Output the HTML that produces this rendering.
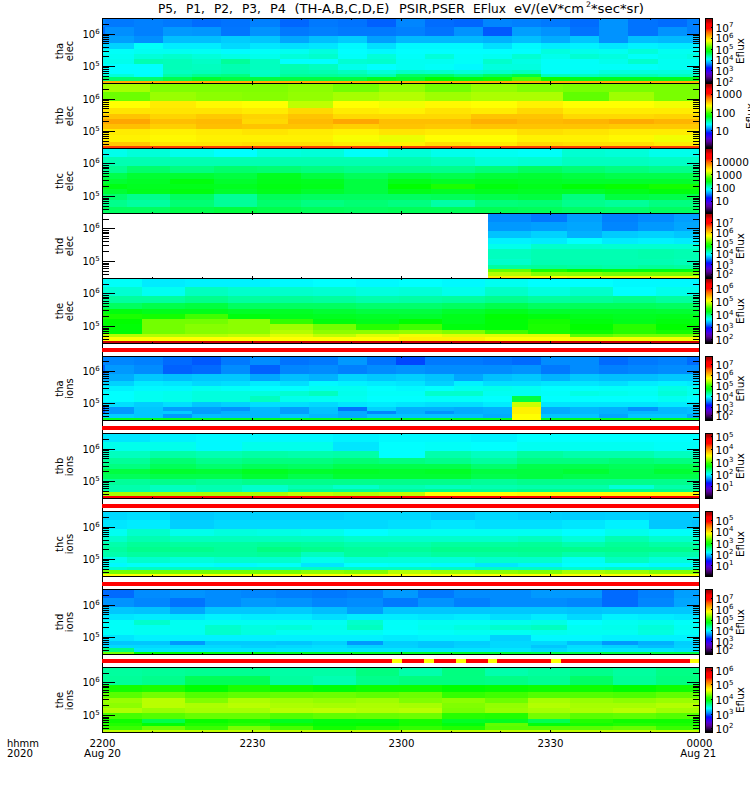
<!DOCTYPE html>
<html><head><meta charset="utf-8"><title>THEMIS SST EFlux</title>
<style>html,body{margin:0;padding:0;background:#fff}svg{display:block}text{font-family:"DejaVu Sans","Liberation Sans",sans-serif;fill:#000}</style></head><body>
<svg width="750" height="800" viewBox="0 0 750 800">
<defs><linearGradient id="cb" x1="0" y1="0" x2="0" y2="1">
<stop offset="0" stop-color="#9c0000"/>
<stop offset="0.04" stop-color="#c00000"/>
<stop offset="0.08" stop-color="#ff0000"/>
<stop offset="0.15" stop-color="#ff0800"/>
<stop offset="0.2" stop-color="#ff6000"/>
<stop offset="0.26" stop-color="#ffa800"/>
<stop offset="0.3" stop-color="#ffd800"/>
<stop offset="0.34" stop-color="#ffff00"/>
<stop offset="0.4" stop-color="#a0ff00"/>
<stop offset="0.46" stop-color="#30ff00"/>
<stop offset="0.51" stop-color="#00ff10"/>
<stop offset="0.57" stop-color="#00ff90"/>
<stop offset="0.63" stop-color="#00ffff"/>
<stop offset="0.7" stop-color="#0090ff"/>
<stop offset="0.765" stop-color="#0010ff"/>
<stop offset="0.8" stop-color="#2800ff"/>
<stop offset="0.85" stop-color="#5000d8"/>
<stop offset="0.9" stop-color="#580098"/>
<stop offset="0.95" stop-color="#300050"/>
<stop offset="0.985" stop-color="#080010"/>
<stop offset="1" stop-color="#000000"/>
</linearGradient></defs>
<rect x="0" y="0" width="750" height="800" fill="#fff"/>
<g shape-rendering="crispEdges">
<rect x="103" y="19" width="2" height="8" fill="#0086ff"/>
<rect x="105" y="19" width="29" height="8" fill="#0079ff"/>
<rect x="134" y="19" width="29" height="8" fill="#0080ff"/>
<rect x="163" y="19" width="29" height="8" fill="#0079ff"/>
<rect x="192" y="19" width="29" height="8" fill="#006cff"/>
<rect x="221" y="19" width="29" height="8" fill="#0073ff"/>
<rect x="250" y="19" width="30" height="8" fill="#0080ff"/>
<rect x="280" y="19" width="29" height="8" fill="#0066ff"/>
<rect x="309" y="19" width="29" height="8" fill="#0079ff"/>
<rect x="338" y="19" width="29" height="8" fill="#0073ff"/>
<rect x="367" y="19" width="29" height="8" fill="#0060ff"/>
<rect x="396" y="19" width="29" height="8" fill="#0086ff"/>
<rect x="425" y="19" width="29" height="8" fill="#006cff"/>
<rect x="454" y="19" width="29" height="8" fill="#0066ff"/>
<rect x="483" y="19" width="29" height="8" fill="#0086ff"/>
<rect x="512" y="19" width="29" height="8" fill="#0080ff"/>
<rect x="541" y="19" width="29" height="8" fill="#0079ff"/>
<rect x="570" y="19" width="29" height="8" fill="#006cff"/>
<rect x="599" y="19" width="29" height="8" fill="#0093ff"/>
<rect x="628" y="19" width="30" height="8" fill="#0073ff"/>
<rect x="658" y="19" width="29" height="8" fill="#006cff"/>
<rect x="687" y="19" width="12" height="8" fill="#0080ff"/>
<rect x="103" y="27" width="2" height="9" fill="#006cff"/>
<rect x="105" y="27" width="29" height="9" fill="#008fff"/>
<rect x="134" y="27" width="29" height="9" fill="#0080ff"/>
<rect x="163" y="27" width="29" height="9" fill="#0099ff"/>
<rect x="192" y="27" width="29" height="9" fill="#0096ff"/>
<rect x="221" y="27" width="29" height="9" fill="#0076ff"/>
<rect x="250" y="27" width="30" height="9" fill="#0093ff"/>
<rect x="280" y="27" width="29" height="9" fill="#0079ff"/>
<rect x="309" y="27" width="29" height="9" fill="#0080ff"/>
<rect x="338" y="27" width="58" height="9" fill="#0079ff"/>
<rect x="396" y="27" width="29" height="9" fill="#0080ff"/>
<rect x="425" y="27" width="29" height="9" fill="#0073ff"/>
<rect x="454" y="27" width="29" height="9" fill="#0093ff"/>
<rect x="483" y="27" width="29" height="9" fill="#0059ff"/>
<rect x="512" y="27" width="29" height="9" fill="#009fff"/>
<rect x="541" y="27" width="29" height="9" fill="#0093ff"/>
<rect x="570" y="27" width="29" height="9" fill="#0073ff"/>
<rect x="599" y="27" width="29" height="9" fill="#0093ff"/>
<rect x="628" y="27" width="30" height="9" fill="#0073ff"/>
<rect x="658" y="27" width="29" height="9" fill="#0093ff"/>
<rect x="687" y="27" width="12" height="9" fill="#0080ff"/>
<rect x="103" y="36" width="2" height="7" fill="#0093ff"/>
<rect x="105" y="36" width="29" height="7" fill="#009fff"/>
<rect x="134" y="36" width="29" height="7" fill="#008fff"/>
<rect x="163" y="36" width="58" height="7" fill="#00bfff"/>
<rect x="221" y="36" width="29" height="7" fill="#00ccff"/>
<rect x="250" y="36" width="30" height="7" fill="#00c6ff"/>
<rect x="280" y="36" width="29" height="7" fill="#00a6ff"/>
<rect x="309" y="36" width="29" height="7" fill="#00bfff"/>
<rect x="338" y="36" width="29" height="7" fill="#00ccff"/>
<rect x="367" y="36" width="29" height="7" fill="#009fff"/>
<rect x="396" y="36" width="87" height="7" fill="#00b9ff"/>
<rect x="483" y="36" width="29" height="7" fill="#00b2ff"/>
<rect x="512" y="36" width="29" height="7" fill="#00bfff"/>
<rect x="541" y="36" width="29" height="7" fill="#00acff"/>
<rect x="570" y="36" width="29" height="7" fill="#00c6ff"/>
<rect x="599" y="36" width="29" height="7" fill="#0093ff"/>
<rect x="628" y="36" width="30" height="7" fill="#00bfff"/>
<rect x="658" y="36" width="41" height="7" fill="#00b9ff"/>
<rect x="103" y="43" width="31" height="6" fill="#00d2ff"/>
<rect x="134" y="43" width="29" height="6" fill="#00fff9"/>
<rect x="163" y="43" width="58" height="6" fill="#00ecff"/>
<rect x="221" y="43" width="29" height="6" fill="#00d9ff"/>
<rect x="250" y="43" width="30" height="6" fill="#00e6ff"/>
<rect x="280" y="43" width="29" height="6" fill="#00dfff"/>
<rect x="309" y="43" width="29" height="6" fill="#00e6ff"/>
<rect x="338" y="43" width="29" height="6" fill="#00f9ff"/>
<rect x="367" y="43" width="29" height="6" fill="#00dfff"/>
<rect x="396" y="43" width="87" height="6" fill="#00f9ff"/>
<rect x="483" y="43" width="29" height="6" fill="#00dfff"/>
<rect x="512" y="43" width="29" height="6" fill="#00f9ff"/>
<rect x="541" y="43" width="29" height="6" fill="#00ecff"/>
<rect x="570" y="43" width="29" height="6" fill="#00f2ff"/>
<rect x="599" y="43" width="29" height="6" fill="#00e6ff"/>
<rect x="628" y="43" width="30" height="6" fill="#00f2ff"/>
<rect x="658" y="43" width="41" height="6" fill="#00ecff"/>
<rect x="103" y="49" width="31" height="5" fill="#00fff9"/>
<rect x="134" y="49" width="58" height="5" fill="#00fff2"/>
<rect x="192" y="49" width="29" height="5" fill="#00fff5"/>
<rect x="221" y="49" width="29" height="5" fill="#00fcff"/>
<rect x="250" y="49" width="30" height="5" fill="#00fff9"/>
<rect x="280" y="49" width="29" height="5" fill="#00fff2"/>
<rect x="309" y="49" width="29" height="5" fill="#00ffdf"/>
<rect x="338" y="49" width="29" height="5" fill="#00ffff"/>
<rect x="367" y="49" width="29" height="5" fill="#00f9ff"/>
<rect x="396" y="49" width="145" height="5" fill="#00ffff"/>
<rect x="541" y="49" width="29" height="5" fill="#00ffdf"/>
<rect x="570" y="49" width="29" height="5" fill="#00ffec"/>
<rect x="599" y="49" width="29" height="5" fill="#00fff2"/>
<rect x="628" y="49" width="30" height="5" fill="#00ffd9"/>
<rect x="658" y="49" width="41" height="5" fill="#00fff2"/>
<rect x="103" y="54" width="31" height="5" fill="#00fff2"/>
<rect x="134" y="54" width="29" height="5" fill="#00ffd9"/>
<rect x="163" y="54" width="29" height="5" fill="#00ffcc"/>
<rect x="192" y="54" width="29" height="5" fill="#00ffd9"/>
<rect x="221" y="54" width="29" height="5" fill="#00ffe5"/>
<rect x="250" y="54" width="30" height="5" fill="#00ffec"/>
<rect x="280" y="54" width="29" height="5" fill="#00ffd9"/>
<rect x="309" y="54" width="29" height="5" fill="#00ffcc"/>
<rect x="338" y="54" width="29" height="5" fill="#00fff9"/>
<rect x="367" y="54" width="29" height="5" fill="#00ffd9"/>
<rect x="396" y="54" width="29" height="5" fill="#00fff9"/>
<rect x="425" y="54" width="29" height="5" fill="#00ffd9"/>
<rect x="454" y="54" width="29" height="5" fill="#00fff9"/>
<rect x="483" y="54" width="29" height="5" fill="#00fff2"/>
<rect x="512" y="54" width="29" height="5" fill="#00ffd2"/>
<rect x="541" y="54" width="29" height="5" fill="#00ffec"/>
<rect x="570" y="54" width="29" height="5" fill="#00ffd2"/>
<rect x="599" y="54" width="29" height="5" fill="#00ffdf"/>
<rect x="628" y="54" width="30" height="5" fill="#00fff9"/>
<rect x="658" y="54" width="29" height="5" fill="#00ffec"/>
<rect x="687" y="54" width="12" height="5" fill="#00ffdf"/>
<rect x="103" y="59" width="31" height="5" fill="#00ffec"/>
<rect x="134" y="59" width="29" height="5" fill="#00ffb2"/>
<rect x="163" y="59" width="29" height="5" fill="#00ffb9"/>
<rect x="192" y="59" width="29" height="5" fill="#00ffc6"/>
<rect x="221" y="59" width="29" height="5" fill="#00ff99"/>
<rect x="250" y="59" width="30" height="5" fill="#00ffbf"/>
<rect x="280" y="59" width="58" height="5" fill="#00ffff"/>
<rect x="338" y="59" width="29" height="5" fill="#00ffd2"/>
<rect x="367" y="59" width="29" height="5" fill="#00ffcc"/>
<rect x="396" y="59" width="58" height="5" fill="#00fff2"/>
<rect x="454" y="59" width="29" height="5" fill="#00fff9"/>
<rect x="483" y="59" width="29" height="5" fill="#00ffcc"/>
<rect x="512" y="59" width="29" height="5" fill="#00ffe5"/>
<rect x="541" y="59" width="58" height="5" fill="#00fff9"/>
<rect x="599" y="59" width="29" height="5" fill="#00ffec"/>
<rect x="628" y="59" width="30" height="5" fill="#00ffcc"/>
<rect x="658" y="59" width="41" height="5" fill="#00fff2"/>
<rect x="103" y="64" width="60" height="6" fill="#00ffff"/>
<rect x="163" y="64" width="29" height="6" fill="#00ffb9"/>
<rect x="192" y="64" width="29" height="6" fill="#00ffbf"/>
<rect x="221" y="64" width="29" height="6" fill="#00ffb2"/>
<rect x="250" y="64" width="30" height="6" fill="#00ffbf"/>
<rect x="280" y="64" width="29" height="6" fill="#00ffb2"/>
<rect x="309" y="64" width="29" height="6" fill="#00ffbf"/>
<rect x="338" y="64" width="29" height="6" fill="#00ffec"/>
<rect x="367" y="64" width="29" height="6" fill="#00ffff"/>
<rect x="396" y="64" width="29" height="6" fill="#00fff2"/>
<rect x="425" y="64" width="29" height="6" fill="#00fff9"/>
<rect x="454" y="64" width="29" height="6" fill="#00f9ff"/>
<rect x="483" y="64" width="58" height="6" fill="#00ffdf"/>
<rect x="541" y="64" width="117" height="6" fill="#00fff9"/>
<rect x="658" y="64" width="29" height="6" fill="#00fff2"/>
<rect x="687" y="64" width="12" height="6" fill="#00fff9"/>
<rect x="103" y="70" width="60" height="4" fill="#00ffff"/>
<rect x="163" y="70" width="29" height="4" fill="#00ffbf"/>
<rect x="192" y="70" width="29" height="4" fill="#00ffb9"/>
<rect x="221" y="70" width="29" height="4" fill="#00ffaf"/>
<rect x="250" y="70" width="30" height="4" fill="#00ffc6"/>
<rect x="280" y="70" width="29" height="4" fill="#00ffac"/>
<rect x="309" y="70" width="29" height="4" fill="#00ffb2"/>
<rect x="338" y="70" width="29" height="4" fill="#00ffbf"/>
<rect x="367" y="70" width="29" height="4" fill="#00ffd9"/>
<rect x="396" y="70" width="29" height="4" fill="#00ffc6"/>
<rect x="425" y="70" width="29" height="4" fill="#00ffcc"/>
<rect x="454" y="70" width="29" height="4" fill="#00ffd9"/>
<rect x="483" y="70" width="29" height="4" fill="#00ffcc"/>
<rect x="512" y="70" width="29" height="4" fill="#00ffbf"/>
<rect x="541" y="70" width="29" height="4" fill="#00ffff"/>
<rect x="570" y="70" width="29" height="4" fill="#00fff2"/>
<rect x="599" y="70" width="100" height="4" fill="#00ffdf"/>
<rect x="103" y="74" width="31" height="3" fill="#00ffd9"/>
<rect x="134" y="74" width="29" height="3" fill="#00fff9"/>
<rect x="163" y="74" width="29" height="3" fill="#00ffa6"/>
<rect x="192" y="74" width="29" height="3" fill="#00ff8c"/>
<rect x="221" y="74" width="29" height="3" fill="#00ff80"/>
<rect x="250" y="74" width="30" height="3" fill="#00ffbf"/>
<rect x="280" y="74" width="58" height="3" fill="#00ff99"/>
<rect x="338" y="74" width="29" height="3" fill="#00ff9f"/>
<rect x="367" y="74" width="29" height="3" fill="#00ffac"/>
<rect x="396" y="74" width="58" height="3" fill="#00ff60"/>
<rect x="454" y="74" width="29" height="3" fill="#00ff80"/>
<rect x="483" y="74" width="29" height="3" fill="#00ff60"/>
<rect x="512" y="74" width="29" height="3" fill="#00ff40"/>
<rect x="541" y="74" width="58" height="3" fill="#00ffbf"/>
<rect x="599" y="74" width="59" height="3" fill="#00ffb2"/>
<rect x="658" y="74" width="41" height="3" fill="#00ffbf"/>
<rect x="103" y="77" width="60" height="4" fill="#00ff6c"/>
<rect x="163" y="77" width="29" height="4" fill="#00ff4c"/>
<rect x="192" y="77" width="29" height="4" fill="#00ff2d"/>
<rect x="221" y="77" width="146" height="4" fill="#00ff40"/>
<rect x="367" y="77" width="29" height="4" fill="#00ff20"/>
<rect x="396" y="77" width="29" height="4" fill="#00ff2d"/>
<rect x="425" y="77" width="29" height="4" fill="#00ff00"/>
<rect x="454" y="77" width="29" height="4" fill="#00ff0d"/>
<rect x="483" y="77" width="29" height="4" fill="#0dff00"/>
<rect x="512" y="77" width="29" height="4" fill="#4cff00"/>
<rect x="541" y="77" width="29" height="4" fill="#0dff00"/>
<rect x="570" y="77" width="129" height="4" fill="#00ff1a"/>
<rect x="103" y="81" width="596" height="2" fill="#ffac00"/>
<rect x="103" y="84" width="47" height="8" fill="#a6ff00"/>
<rect x="150" y="84" width="138" height="8" fill="#80ff00"/>
<rect x="288" y="84" width="45" height="8" fill="#8cff00"/>
<rect x="333" y="84" width="46" height="8" fill="#73ff00"/>
<rect x="379" y="84" width="46" height="8" fill="#93ff00"/>
<rect x="425" y="84" width="46" height="8" fill="#73ff00"/>
<rect x="471" y="84" width="46" height="8" fill="#93ff00"/>
<rect x="517" y="84" width="46" height="8" fill="#80ff00"/>
<rect x="563" y="84" width="136" height="8" fill="#79ff00"/>
<rect x="103" y="92" width="47" height="9" fill="#6cff00"/>
<rect x="150" y="92" width="46" height="9" fill="#99ff00"/>
<rect x="196" y="92" width="46" height="9" fill="#8cff00"/>
<rect x="242" y="92" width="46" height="9" fill="#86ff00"/>
<rect x="288" y="92" width="45" height="9" fill="#93ff00"/>
<rect x="333" y="92" width="46" height="9" fill="#a6ff00"/>
<rect x="379" y="92" width="46" height="9" fill="#b3ff00"/>
<rect x="425" y="92" width="46" height="9" fill="#9fff00"/>
<rect x="471" y="92" width="92" height="9" fill="#acff00"/>
<rect x="563" y="92" width="46" height="9" fill="#60ff00"/>
<rect x="609" y="92" width="45" height="9" fill="#9fff00"/>
<rect x="654" y="92" width="45" height="9" fill="#79ff00"/>
<rect x="103" y="101" width="47" height="7" fill="#ffff00"/>
<rect x="150" y="101" width="46" height="7" fill="#ffec00"/>
<rect x="196" y="101" width="46" height="7" fill="#fff900"/>
<rect x="242" y="101" width="46" height="7" fill="#ffff00"/>
<rect x="288" y="101" width="45" height="7" fill="#bfff00"/>
<rect x="333" y="101" width="46" height="7" fill="#ffff00"/>
<rect x="379" y="101" width="46" height="7" fill="#f2ff00"/>
<rect x="425" y="101" width="46" height="7" fill="#fff900"/>
<rect x="471" y="101" width="46" height="7" fill="#ffff00"/>
<rect x="517" y="101" width="46" height="7" fill="#fff200"/>
<rect x="563" y="101" width="91" height="7" fill="#ffff00"/>
<rect x="654" y="101" width="45" height="7" fill="#f2ff00"/>
<rect x="103" y="108" width="139" height="6" fill="#ffe500"/>
<rect x="242" y="108" width="46" height="6" fill="#ffec00"/>
<rect x="288" y="108" width="45" height="6" fill="#ffd900"/>
<rect x="333" y="108" width="46" height="6" fill="#ffec00"/>
<rect x="379" y="108" width="46" height="6" fill="#fff200"/>
<rect x="425" y="108" width="46" height="6" fill="#ffe500"/>
<rect x="471" y="108" width="46" height="6" fill="#ffec00"/>
<rect x="517" y="108" width="46" height="6" fill="#ffd900"/>
<rect x="563" y="108" width="136" height="6" fill="#ffec00"/>
<rect x="103" y="114" width="47" height="5" fill="#ffc400"/>
<rect x="150" y="114" width="46" height="5" fill="#ffd400"/>
<rect x="196" y="114" width="46" height="5" fill="#ffc900"/>
<rect x="242" y="114" width="46" height="5" fill="#ffd400"/>
<rect x="288" y="114" width="45" height="5" fill="#ffc400"/>
<rect x="333" y="114" width="138" height="5" fill="#ffd900"/>
<rect x="471" y="114" width="92" height="5" fill="#ffc400"/>
<rect x="563" y="114" width="91" height="5" fill="#ffd900"/>
<rect x="654" y="114" width="45" height="5" fill="#ffd400"/>
<rect x="103" y="119" width="47" height="5" fill="#ffa600"/>
<rect x="150" y="119" width="46" height="5" fill="#ffbf00"/>
<rect x="196" y="119" width="46" height="5" fill="#ffba00"/>
<rect x="242" y="119" width="46" height="5" fill="#ffd900"/>
<rect x="288" y="119" width="45" height="5" fill="#ffba00"/>
<rect x="333" y="119" width="46" height="5" fill="#ffa600"/>
<rect x="379" y="119" width="92" height="5" fill="#ffbf00"/>
<rect x="471" y="119" width="46" height="5" fill="#ffb000"/>
<rect x="517" y="119" width="46" height="5" fill="#ffba00"/>
<rect x="563" y="119" width="46" height="5" fill="#ffb500"/>
<rect x="609" y="119" width="45" height="5" fill="#ffab00"/>
<rect x="654" y="119" width="45" height="5" fill="#ffb500"/>
<rect x="103" y="124" width="47" height="5" fill="#ffbf00"/>
<rect x="150" y="124" width="46" height="5" fill="#ffcf00"/>
<rect x="196" y="124" width="46" height="5" fill="#ffbf00"/>
<rect x="242" y="124" width="91" height="5" fill="#ffc400"/>
<rect x="333" y="124" width="46" height="5" fill="#ffcf00"/>
<rect x="379" y="124" width="46" height="5" fill="#ffc400"/>
<rect x="425" y="124" width="46" height="5" fill="#ffc900"/>
<rect x="471" y="124" width="138" height="5" fill="#ffc400"/>
<rect x="609" y="124" width="90" height="5" fill="#ffc900"/>
<rect x="103" y="129" width="47" height="6" fill="#ffec00"/>
<rect x="150" y="129" width="46" height="6" fill="#fff200"/>
<rect x="196" y="129" width="46" height="6" fill="#ffec00"/>
<rect x="242" y="129" width="46" height="6" fill="#ffe500"/>
<rect x="288" y="129" width="45" height="6" fill="#ffec00"/>
<rect x="333" y="129" width="46" height="6" fill="#fff200"/>
<rect x="379" y="129" width="46" height="6" fill="#ffe500"/>
<rect x="425" y="129" width="92" height="6" fill="#ffec00"/>
<rect x="517" y="129" width="46" height="6" fill="#ffdf00"/>
<rect x="563" y="129" width="46" height="6" fill="#ffe500"/>
<rect x="609" y="129" width="90" height="6" fill="#ffec00"/>
<rect x="103" y="135" width="47" height="4" fill="#fff200"/>
<rect x="150" y="135" width="46" height="4" fill="#fff900"/>
<rect x="196" y="135" width="137" height="4" fill="#fff200"/>
<rect x="333" y="135" width="46" height="4" fill="#f9ff00"/>
<rect x="379" y="135" width="46" height="4" fill="#ecff00"/>
<rect x="425" y="135" width="92" height="4" fill="#ffff00"/>
<rect x="517" y="135" width="92" height="4" fill="#fff200"/>
<rect x="609" y="135" width="45" height="4" fill="#fff900"/>
<rect x="654" y="135" width="45" height="4" fill="#f2ff00"/>
<rect x="103" y="139" width="47" height="3" fill="#fff200"/>
<rect x="150" y="139" width="46" height="3" fill="#fff900"/>
<rect x="196" y="139" width="137" height="3" fill="#fff200"/>
<rect x="333" y="139" width="46" height="3" fill="#f9ff00"/>
<rect x="379" y="139" width="46" height="3" fill="#ecff00"/>
<rect x="425" y="139" width="92" height="3" fill="#ffff00"/>
<rect x="517" y="139" width="92" height="3" fill="#fff200"/>
<rect x="609" y="139" width="45" height="3" fill="#fff900"/>
<rect x="654" y="139" width="45" height="3" fill="#f2ff00"/>
<rect x="103" y="142" width="47" height="4" fill="#ffc900"/>
<rect x="150" y="142" width="92" height="4" fill="#ffe500"/>
<rect x="242" y="142" width="91" height="4" fill="#ffdf00"/>
<rect x="333" y="142" width="46" height="4" fill="#ffec00"/>
<rect x="379" y="142" width="46" height="4" fill="#fff200"/>
<rect x="425" y="142" width="46" height="4" fill="#ffdf00"/>
<rect x="471" y="142" width="46" height="4" fill="#ffec00"/>
<rect x="517" y="142" width="46" height="4" fill="#ffd900"/>
<rect x="563" y="142" width="91" height="4" fill="#ffdf00"/>
<rect x="654" y="142" width="45" height="4" fill="#ffec00"/>
<rect x="103" y="146" width="596" height="2" fill="#ff4000"/>
<rect x="103" y="149" width="24" height="8" fill="#00ffec"/>
<rect x="127" y="149" width="43" height="8" fill="#00ffd9"/>
<rect x="170" y="149" width="44" height="8" fill="#00ffec"/>
<rect x="214" y="149" width="43" height="8" fill="#00ffff"/>
<rect x="257" y="149" width="44" height="8" fill="#00ffdf"/>
<rect x="301" y="149" width="43" height="8" fill="#00ffd9"/>
<rect x="344" y="149" width="44" height="8" fill="#00fff9"/>
<rect x="388" y="149" width="43" height="8" fill="#00ffd9"/>
<rect x="431" y="149" width="44" height="8" fill="#00ffec"/>
<rect x="475" y="149" width="43" height="8" fill="#00fff2"/>
<rect x="518" y="149" width="44" height="8" fill="#00fff9"/>
<rect x="562" y="149" width="43" height="8" fill="#00ffd2"/>
<rect x="605" y="149" width="44" height="8" fill="#00ffd9"/>
<rect x="649" y="149" width="50" height="8" fill="#00ffec"/>
<rect x="103" y="157" width="328" height="9" fill="#00ffb2"/>
<rect x="431" y="157" width="44" height="9" fill="#00ffbf"/>
<rect x="475" y="157" width="43" height="9" fill="#00ffd9"/>
<rect x="518" y="157" width="44" height="9" fill="#00ffd2"/>
<rect x="562" y="157" width="87" height="9" fill="#00ffbf"/>
<rect x="649" y="157" width="50" height="9" fill="#00ffc6"/>
<rect x="103" y="166" width="24" height="7" fill="#00ff93"/>
<rect x="127" y="166" width="43" height="7" fill="#00ff6c"/>
<rect x="170" y="166" width="44" height="7" fill="#00ff80"/>
<rect x="214" y="166" width="43" height="7" fill="#00ff6c"/>
<rect x="257" y="166" width="44" height="7" fill="#00ff73"/>
<rect x="301" y="166" width="43" height="7" fill="#00ff80"/>
<rect x="344" y="166" width="131" height="7" fill="#00ff8c"/>
<rect x="475" y="166" width="43" height="7" fill="#00ff79"/>
<rect x="518" y="166" width="44" height="7" fill="#00ff60"/>
<rect x="562" y="166" width="43" height="7" fill="#00ff73"/>
<rect x="605" y="166" width="44" height="7" fill="#00ff80"/>
<rect x="649" y="166" width="50" height="7" fill="#00ff8c"/>
<rect x="103" y="173" width="24" height="6" fill="#00ff4c"/>
<rect x="127" y="173" width="87" height="6" fill="#00ff33"/>
<rect x="214" y="173" width="43" height="6" fill="#00ff40"/>
<rect x="257" y="173" width="44" height="6" fill="#00ff20"/>
<rect x="301" y="173" width="43" height="6" fill="#00ff40"/>
<rect x="344" y="173" width="44" height="6" fill="#00ff59"/>
<rect x="388" y="173" width="43" height="6" fill="#00ff40"/>
<rect x="431" y="173" width="44" height="6" fill="#00ff4c"/>
<rect x="475" y="173" width="43" height="6" fill="#00ff39"/>
<rect x="518" y="173" width="44" height="6" fill="#00ff33"/>
<rect x="562" y="173" width="43" height="6" fill="#00ff40"/>
<rect x="605" y="173" width="94" height="6" fill="#00ff4c"/>
<rect x="103" y="179" width="24" height="5" fill="#00ff33"/>
<rect x="127" y="179" width="43" height="5" fill="#00ff26"/>
<rect x="170" y="179" width="44" height="5" fill="#00ff0d"/>
<rect x="214" y="179" width="43" height="5" fill="#00ff2d"/>
<rect x="257" y="179" width="44" height="5" fill="#00ff1a"/>
<rect x="301" y="179" width="43" height="5" fill="#00ff20"/>
<rect x="344" y="179" width="44" height="5" fill="#00ff40"/>
<rect x="388" y="179" width="43" height="5" fill="#00ff1a"/>
<rect x="431" y="179" width="44" height="5" fill="#00ff26"/>
<rect x="475" y="179" width="43" height="5" fill="#00ff20"/>
<rect x="518" y="179" width="44" height="5" fill="#00ff26"/>
<rect x="562" y="179" width="137" height="5" fill="#00ff2d"/>
<rect x="103" y="184" width="24" height="5" fill="#00ff13"/>
<rect x="127" y="184" width="43" height="5" fill="#00ff20"/>
<rect x="170" y="184" width="44" height="5" fill="#00ff1a"/>
<rect x="214" y="184" width="43" height="5" fill="#00ff20"/>
<rect x="257" y="184" width="44" height="5" fill="#00ff13"/>
<rect x="301" y="184" width="43" height="5" fill="#00ff1a"/>
<rect x="344" y="184" width="44" height="5" fill="#00ff40"/>
<rect x="388" y="184" width="43" height="5" fill="#00ff00"/>
<rect x="431" y="184" width="44" height="5" fill="#1aff00"/>
<rect x="475" y="184" width="43" height="5" fill="#00ff0d"/>
<rect x="518" y="184" width="44" height="5" fill="#00ff1a"/>
<rect x="562" y="184" width="43" height="5" fill="#00ff06"/>
<rect x="605" y="184" width="44" height="5" fill="#06ff00"/>
<rect x="649" y="184" width="50" height="5" fill="#13ff00"/>
<rect x="103" y="189" width="24" height="5" fill="#00ff33"/>
<rect x="127" y="189" width="43" height="5" fill="#00ff1a"/>
<rect x="170" y="189" width="44" height="5" fill="#00ff0d"/>
<rect x="214" y="189" width="43" height="5" fill="#00ff2d"/>
<rect x="257" y="189" width="44" height="5" fill="#00ff1a"/>
<rect x="301" y="189" width="43" height="5" fill="#00ff2d"/>
<rect x="344" y="189" width="44" height="5" fill="#00ff40"/>
<rect x="388" y="189" width="43" height="5" fill="#00ff1a"/>
<rect x="431" y="189" width="44" height="5" fill="#00ff26"/>
<rect x="475" y="189" width="43" height="5" fill="#00ff20"/>
<rect x="518" y="189" width="87" height="5" fill="#00ff26"/>
<rect x="605" y="189" width="44" height="5" fill="#00ff1a"/>
<rect x="649" y="189" width="50" height="5" fill="#00ff0d"/>
<rect x="103" y="194" width="24" height="6" fill="#00ff6c"/>
<rect x="127" y="194" width="43" height="6" fill="#00ff8c"/>
<rect x="170" y="194" width="44" height="6" fill="#00ff60"/>
<rect x="214" y="194" width="43" height="6" fill="#00ff99"/>
<rect x="257" y="194" width="44" height="6" fill="#00ff59"/>
<rect x="301" y="194" width="130" height="6" fill="#00ff60"/>
<rect x="431" y="194" width="44" height="6" fill="#00ff59"/>
<rect x="475" y="194" width="43" height="6" fill="#00ff4c"/>
<rect x="518" y="194" width="44" height="6" fill="#00ff40"/>
<rect x="562" y="194" width="43" height="6" fill="#00ff80"/>
<rect x="605" y="194" width="44" height="6" fill="#00ff40"/>
<rect x="649" y="194" width="50" height="6" fill="#00ff4c"/>
<rect x="103" y="200" width="24" height="4" fill="#00ff8c"/>
<rect x="127" y="200" width="43" height="4" fill="#00ff9f"/>
<rect x="170" y="200" width="44" height="4" fill="#00ff73"/>
<rect x="214" y="200" width="43" height="4" fill="#00ff99"/>
<rect x="257" y="200" width="44" height="4" fill="#00ff6c"/>
<rect x="301" y="200" width="43" height="4" fill="#00ff80"/>
<rect x="344" y="200" width="44" height="4" fill="#00ff73"/>
<rect x="388" y="200" width="43" height="4" fill="#00ff80"/>
<rect x="431" y="200" width="44" height="4" fill="#00ffa6"/>
<rect x="475" y="200" width="43" height="4" fill="#00ff79"/>
<rect x="518" y="200" width="44" height="4" fill="#00ff73"/>
<rect x="562" y="200" width="43" height="4" fill="#00ff8c"/>
<rect x="605" y="200" width="44" height="4" fill="#00ff99"/>
<rect x="649" y="200" width="50" height="4" fill="#00ff80"/>
<rect x="103" y="204" width="24" height="3" fill="#00ff8c"/>
<rect x="127" y="204" width="43" height="3" fill="#00ff9f"/>
<rect x="170" y="204" width="44" height="3" fill="#00ff73"/>
<rect x="214" y="204" width="43" height="3" fill="#00ff99"/>
<rect x="257" y="204" width="44" height="3" fill="#00ff6c"/>
<rect x="301" y="204" width="43" height="3" fill="#00ff80"/>
<rect x="344" y="204" width="44" height="3" fill="#00ff73"/>
<rect x="388" y="204" width="43" height="3" fill="#00ff80"/>
<rect x="431" y="204" width="44" height="3" fill="#00ffa6"/>
<rect x="475" y="204" width="43" height="3" fill="#00ff79"/>
<rect x="518" y="204" width="44" height="3" fill="#00ff73"/>
<rect x="562" y="204" width="43" height="3" fill="#00ff8c"/>
<rect x="605" y="204" width="44" height="3" fill="#00ff99"/>
<rect x="649" y="204" width="50" height="3" fill="#00ff80"/>
<rect x="103" y="207" width="67" height="4" fill="#00ff60"/>
<rect x="170" y="207" width="44" height="4" fill="#00ff4c"/>
<rect x="214" y="207" width="43" height="4" fill="#00ff40"/>
<rect x="257" y="207" width="44" height="4" fill="#00ff4c"/>
<rect x="301" y="207" width="43" height="4" fill="#00ff59"/>
<rect x="344" y="207" width="44" height="4" fill="#00ff60"/>
<rect x="388" y="207" width="87" height="4" fill="#00ff59"/>
<rect x="475" y="207" width="43" height="4" fill="#00ff53"/>
<rect x="518" y="207" width="44" height="4" fill="#00ff59"/>
<rect x="562" y="207" width="43" height="4" fill="#00ff66"/>
<rect x="605" y="207" width="44" height="4" fill="#00ff6c"/>
<rect x="649" y="207" width="50" height="4" fill="#00ff60"/>
<rect x="103" y="211" width="67" height="2" fill="#00ff60"/>
<rect x="170" y="211" width="44" height="2" fill="#00ff4c"/>
<rect x="214" y="211" width="43" height="2" fill="#00ff40"/>
<rect x="257" y="211" width="44" height="2" fill="#00ff4c"/>
<rect x="301" y="211" width="43" height="2" fill="#00ff59"/>
<rect x="344" y="211" width="44" height="2" fill="#00ff60"/>
<rect x="388" y="211" width="87" height="2" fill="#00ff59"/>
<rect x="475" y="211" width="43" height="2" fill="#00ff53"/>
<rect x="518" y="211" width="44" height="2" fill="#00ff59"/>
<rect x="562" y="211" width="43" height="2" fill="#00ff66"/>
<rect x="605" y="211" width="44" height="2" fill="#00ff6c"/>
<rect x="649" y="211" width="50" height="2" fill="#00ff60"/>
<rect x="488" y="214" width="43" height="8" fill="#008cff"/>
<rect x="531" y="214" width="36" height="8" fill="#0079ff"/>
<rect x="567" y="214" width="35" height="8" fill="#009fff"/>
<rect x="602" y="214" width="36" height="8" fill="#0080ff"/>
<rect x="638" y="214" width="36" height="8" fill="#008cff"/>
<rect x="674" y="214" width="25" height="8" fill="#009fff"/>
<rect x="488" y="222" width="43" height="9" fill="#0099ff"/>
<rect x="531" y="222" width="36" height="9" fill="#009fff"/>
<rect x="567" y="222" width="35" height="9" fill="#00a6ff"/>
<rect x="602" y="222" width="36" height="9" fill="#0086ff"/>
<rect x="638" y="222" width="36" height="9" fill="#0099ff"/>
<rect x="674" y="222" width="25" height="9" fill="#00a6ff"/>
<rect x="488" y="231" width="43" height="7" fill="#00c3ff"/>
<rect x="531" y="231" width="36" height="7" fill="#00d2ff"/>
<rect x="567" y="231" width="35" height="7" fill="#00b2ff"/>
<rect x="602" y="231" width="36" height="7" fill="#00cbff"/>
<rect x="638" y="231" width="36" height="7" fill="#00d2ff"/>
<rect x="674" y="231" width="25" height="7" fill="#00c7ff"/>
<rect x="488" y="238" width="43" height="6" fill="#00f2ff"/>
<rect x="531" y="238" width="36" height="6" fill="#00ecff"/>
<rect x="567" y="238" width="35" height="6" fill="#00ffff"/>
<rect x="602" y="238" width="36" height="6" fill="#00ecff"/>
<rect x="638" y="238" width="36" height="6" fill="#00f2ff"/>
<rect x="674" y="238" width="25" height="6" fill="#00ecff"/>
<rect x="488" y="244" width="43" height="5" fill="#00ffec"/>
<rect x="531" y="244" width="71" height="5" fill="#00ffcc"/>
<rect x="602" y="244" width="97" height="5" fill="#00ffd2"/>
<rect x="488" y="249" width="43" height="5" fill="#00ffbf"/>
<rect x="531" y="249" width="107" height="5" fill="#00ffb2"/>
<rect x="638" y="249" width="36" height="5" fill="#00ffac"/>
<rect x="674" y="249" width="25" height="5" fill="#00ffb2"/>
<rect x="488" y="254" width="43" height="5" fill="#00ffbf"/>
<rect x="531" y="254" width="107" height="5" fill="#00ffb2"/>
<rect x="638" y="254" width="36" height="5" fill="#00ffac"/>
<rect x="674" y="254" width="25" height="5" fill="#00ffb2"/>
<rect x="488" y="259" width="43" height="6" fill="#00ffcc"/>
<rect x="531" y="259" width="143" height="6" fill="#00ffb2"/>
<rect x="674" y="259" width="25" height="6" fill="#00ffb9"/>
<rect x="488" y="265" width="43" height="4" fill="#00ff9f"/>
<rect x="531" y="265" width="36" height="4" fill="#00ff99"/>
<rect x="567" y="265" width="35" height="4" fill="#00ff9f"/>
<rect x="602" y="265" width="36" height="4" fill="#00ffa6"/>
<rect x="638" y="265" width="36" height="4" fill="#00ff99"/>
<rect x="674" y="265" width="25" height="4" fill="#00ff9f"/>
<rect x="488" y="269" width="43" height="3" fill="#66ff00"/>
<rect x="531" y="269" width="36" height="3" fill="#1aff00"/>
<rect x="567" y="269" width="35" height="3" fill="#00ff00"/>
<rect x="602" y="269" width="97" height="3" fill="#00ff0d"/>
<rect x="488" y="272" width="43" height="4" fill="#b3ff00"/>
<rect x="531" y="272" width="71" height="4" fill="#86ff00"/>
<rect x="602" y="272" width="97" height="4" fill="#73ff00"/>
<rect x="488" y="276" width="43" height="2" fill="#fff200"/>
<rect x="531" y="276" width="36" height="2" fill="#ffff00"/>
<rect x="567" y="276" width="132" height="2" fill="#f2ff00"/>
<rect x="103" y="279" width="39" height="8" fill="#00fff9"/>
<rect x="142" y="279" width="43" height="8" fill="#00ecff"/>
<rect x="185" y="279" width="85" height="8" fill="#00f2ff"/>
<rect x="270" y="279" width="43" height="8" fill="#00f9ff"/>
<rect x="313" y="279" width="43" height="8" fill="#00ffff"/>
<rect x="356" y="279" width="43" height="8" fill="#00f9ff"/>
<rect x="399" y="279" width="43" height="8" fill="#00ffff"/>
<rect x="442" y="279" width="43" height="8" fill="#00f9ff"/>
<rect x="485" y="279" width="43" height="8" fill="#00fff2"/>
<rect x="528" y="279" width="85" height="8" fill="#00ffff"/>
<rect x="613" y="279" width="86" height="8" fill="#00f9ff"/>
<rect x="103" y="287" width="39" height="9" fill="#00ffd2"/>
<rect x="142" y="287" width="43" height="9" fill="#00fff2"/>
<rect x="185" y="287" width="43" height="9" fill="#00ffbf"/>
<rect x="228" y="287" width="85" height="9" fill="#00ffcc"/>
<rect x="313" y="287" width="43" height="9" fill="#00ffd2"/>
<rect x="356" y="287" width="43" height="9" fill="#00ffdf"/>
<rect x="399" y="287" width="43" height="9" fill="#00ffd9"/>
<rect x="442" y="287" width="43" height="9" fill="#00ffec"/>
<rect x="485" y="287" width="43" height="9" fill="#00ffc9"/>
<rect x="528" y="287" width="42" height="9" fill="#00ffdf"/>
<rect x="570" y="287" width="43" height="9" fill="#00ffcc"/>
<rect x="613" y="287" width="43" height="9" fill="#00ffff"/>
<rect x="656" y="287" width="43" height="9" fill="#00ffec"/>
<rect x="103" y="296" width="82" height="7" fill="#00ff9f"/>
<rect x="185" y="296" width="43" height="7" fill="#00ff8c"/>
<rect x="228" y="296" width="42" height="7" fill="#00ff9f"/>
<rect x="270" y="296" width="43" height="7" fill="#00ff99"/>
<rect x="313" y="296" width="43" height="7" fill="#00ff9f"/>
<rect x="356" y="296" width="43" height="7" fill="#00ffac"/>
<rect x="399" y="296" width="43" height="7" fill="#00ffa6"/>
<rect x="442" y="296" width="43" height="7" fill="#00ff9f"/>
<rect x="485" y="296" width="43" height="7" fill="#00ff8f"/>
<rect x="528" y="296" width="42" height="7" fill="#00ff9f"/>
<rect x="570" y="296" width="43" height="7" fill="#00ff99"/>
<rect x="613" y="296" width="43" height="7" fill="#00ff8c"/>
<rect x="656" y="296" width="43" height="7" fill="#00ff9f"/>
<rect x="103" y="303" width="39" height="6" fill="#00ff60"/>
<rect x="142" y="303" width="43" height="6" fill="#00ff4c"/>
<rect x="185" y="303" width="43" height="6" fill="#00ff40"/>
<rect x="228" y="303" width="128" height="6" fill="#00ff60"/>
<rect x="356" y="303" width="86" height="6" fill="#00ff6c"/>
<rect x="442" y="303" width="43" height="6" fill="#00ff60"/>
<rect x="485" y="303" width="43" height="6" fill="#00ff4c"/>
<rect x="528" y="303" width="42" height="6" fill="#00ff60"/>
<rect x="570" y="303" width="86" height="6" fill="#00ff59"/>
<rect x="656" y="303" width="43" height="6" fill="#00ff60"/>
<rect x="103" y="309" width="39" height="5" fill="#00ff0d"/>
<rect x="142" y="309" width="86" height="5" fill="#00ff1a"/>
<rect x="228" y="309" width="85" height="5" fill="#00ff26"/>
<rect x="313" y="309" width="43" height="5" fill="#00ff33"/>
<rect x="356" y="309" width="86" height="5" fill="#00ff40"/>
<rect x="442" y="309" width="43" height="5" fill="#00ff2d"/>
<rect x="485" y="309" width="43" height="5" fill="#00ff1d"/>
<rect x="528" y="309" width="128" height="5" fill="#00ff2d"/>
<rect x="656" y="309" width="43" height="5" fill="#00ff33"/>
<rect x="103" y="314" width="39" height="5" fill="#1aff00"/>
<rect x="142" y="314" width="43" height="5" fill="#13ff00"/>
<rect x="185" y="314" width="43" height="5" fill="#40ff00"/>
<rect x="228" y="314" width="42" height="5" fill="#00ff0d"/>
<rect x="270" y="314" width="43" height="5" fill="#00ff1a"/>
<rect x="313" y="314" width="43" height="5" fill="#00ff20"/>
<rect x="356" y="314" width="43" height="5" fill="#00ff26"/>
<rect x="399" y="314" width="43" height="5" fill="#00ff2d"/>
<rect x="442" y="314" width="43" height="5" fill="#00ff1a"/>
<rect x="485" y="314" width="43" height="5" fill="#00ff03"/>
<rect x="528" y="314" width="42" height="5" fill="#00ff0d"/>
<rect x="570" y="314" width="43" height="5" fill="#00ff1a"/>
<rect x="613" y="314" width="43" height="5" fill="#00ff20"/>
<rect x="656" y="314" width="43" height="5" fill="#00ff1a"/>
<rect x="103" y="319" width="39" height="5" fill="#00ff00"/>
<rect x="142" y="319" width="86" height="5" fill="#73ff00"/>
<rect x="228" y="319" width="42" height="5" fill="#8cff00"/>
<rect x="270" y="319" width="43" height="5" fill="#33ff00"/>
<rect x="313" y="319" width="43" height="5" fill="#00ff0d"/>
<rect x="356" y="319" width="43" height="5" fill="#00ff1a"/>
<rect x="399" y="319" width="43" height="5" fill="#00ff00"/>
<rect x="442" y="319" width="43" height="5" fill="#00ff1a"/>
<rect x="485" y="319" width="43" height="5" fill="#00ff06"/>
<rect x="528" y="319" width="42" height="5" fill="#13ff00"/>
<rect x="570" y="319" width="43" height="5" fill="#00ff0d"/>
<rect x="613" y="319" width="43" height="5" fill="#00ff1a"/>
<rect x="656" y="319" width="43" height="5" fill="#00ff0d"/>
<rect x="103" y="324" width="39" height="6" fill="#00ff06"/>
<rect x="142" y="324" width="43" height="6" fill="#73ff00"/>
<rect x="185" y="324" width="43" height="6" fill="#86ff00"/>
<rect x="228" y="324" width="42" height="6" fill="#8cff00"/>
<rect x="270" y="324" width="43" height="6" fill="#9fff00"/>
<rect x="313" y="324" width="43" height="6" fill="#73ff00"/>
<rect x="356" y="324" width="43" height="6" fill="#26ff00"/>
<rect x="399" y="324" width="43" height="6" fill="#40ff00"/>
<rect x="442" y="324" width="43" height="6" fill="#00ff0d"/>
<rect x="485" y="324" width="43" height="6" fill="#00ff06"/>
<rect x="528" y="324" width="42" height="6" fill="#1aff00"/>
<rect x="570" y="324" width="43" height="6" fill="#00ff00"/>
<rect x="613" y="324" width="43" height="6" fill="#26ff00"/>
<rect x="656" y="324" width="43" height="6" fill="#00ff00"/>
<rect x="103" y="330" width="39" height="4" fill="#00ff06"/>
<rect x="142" y="330" width="43" height="4" fill="#73ff00"/>
<rect x="185" y="330" width="43" height="4" fill="#86ff00"/>
<rect x="228" y="330" width="42" height="4" fill="#8cff00"/>
<rect x="270" y="330" width="43" height="4" fill="#b3ff00"/>
<rect x="313" y="330" width="86" height="4" fill="#8cff00"/>
<rect x="399" y="330" width="43" height="4" fill="#93ff00"/>
<rect x="442" y="330" width="43" height="4" fill="#80ff00"/>
<rect x="485" y="330" width="43" height="4" fill="#40ff00"/>
<rect x="528" y="330" width="42" height="4" fill="#1aff00"/>
<rect x="570" y="330" width="43" height="4" fill="#0dff00"/>
<rect x="613" y="330" width="43" height="4" fill="#26ff00"/>
<rect x="656" y="330" width="43" height="4" fill="#13ff00"/>
<rect x="103" y="334" width="125" height="3" fill="#b3ff00"/>
<rect x="228" y="334" width="42" height="3" fill="#bfff00"/>
<rect x="270" y="334" width="43" height="3" fill="#dfff00"/>
<rect x="313" y="334" width="43" height="3" fill="#bfff00"/>
<rect x="356" y="334" width="43" height="3" fill="#dfff00"/>
<rect x="399" y="334" width="43" height="3" fill="#f2ff00"/>
<rect x="442" y="334" width="128" height="3" fill="#dfff00"/>
<rect x="570" y="334" width="43" height="3" fill="#60ff00"/>
<rect x="613" y="334" width="86" height="3" fill="#73ff00"/>
<rect x="103" y="337" width="296" height="4" fill="#ffff00"/>
<rect x="399" y="337" width="86" height="4" fill="#fff200"/>
<rect x="485" y="337" width="85" height="4" fill="#ffff00"/>
<rect x="570" y="337" width="129" height="4" fill="#f2ff00"/>
<rect x="103" y="341" width="596" height="2" fill="#c80000"/>
<rect x="103" y="357" width="31" height="8" fill="#0086ff"/>
<rect x="134" y="357" width="29" height="8" fill="#0080ff"/>
<rect x="163" y="357" width="29" height="8" fill="#006aff"/>
<rect x="192" y="357" width="29" height="8" fill="#0058ff"/>
<rect x="221" y="357" width="29" height="8" fill="#0079ff"/>
<rect x="250" y="357" width="30" height="8" fill="#008cff"/>
<rect x="280" y="357" width="29" height="8" fill="#0073ff"/>
<rect x="309" y="357" width="29" height="8" fill="#0079ff"/>
<rect x="338" y="357" width="29" height="8" fill="#0099ff"/>
<rect x="367" y="357" width="29" height="8" fill="#0073ff"/>
<rect x="396" y="357" width="29" height="8" fill="#0046ff"/>
<rect x="425" y="357" width="58" height="8" fill="#0079ff"/>
<rect x="483" y="357" width="29" height="8" fill="#0073ff"/>
<rect x="512" y="357" width="29" height="8" fill="#006aff"/>
<rect x="541" y="357" width="58" height="8" fill="#008cff"/>
<rect x="599" y="357" width="29" height="8" fill="#006aff"/>
<rect x="628" y="357" width="30" height="8" fill="#0079ff"/>
<rect x="658" y="357" width="29" height="8" fill="#0080ff"/>
<rect x="687" y="357" width="12" height="8" fill="#006aff"/>
<rect x="103" y="365" width="2" height="9" fill="#0060ff"/>
<rect x="105" y="365" width="29" height="9" fill="#0099ff"/>
<rect x="134" y="365" width="29" height="9" fill="#008cff"/>
<rect x="163" y="365" width="29" height="9" fill="#0061ff"/>
<rect x="192" y="365" width="29" height="9" fill="#006aff"/>
<rect x="221" y="365" width="29" height="9" fill="#008cff"/>
<rect x="250" y="365" width="30" height="9" fill="#0061ff"/>
<rect x="280" y="365" width="29" height="9" fill="#0086ff"/>
<rect x="309" y="365" width="29" height="9" fill="#008cff"/>
<rect x="338" y="365" width="29" height="9" fill="#0080ff"/>
<rect x="367" y="365" width="29" height="9" fill="#008cff"/>
<rect x="396" y="365" width="29" height="9" fill="#0093ff"/>
<rect x="425" y="365" width="87" height="9" fill="#008cff"/>
<rect x="512" y="365" width="29" height="9" fill="#0093ff"/>
<rect x="541" y="365" width="29" height="9" fill="#0079ff"/>
<rect x="570" y="365" width="29" height="9" fill="#008cff"/>
<rect x="599" y="365" width="29" height="9" fill="#0080ff"/>
<rect x="628" y="365" width="30" height="9" fill="#0086ff"/>
<rect x="658" y="365" width="41" height="9" fill="#008cff"/>
<rect x="103" y="374" width="31" height="7" fill="#00acff"/>
<rect x="134" y="374" width="29" height="7" fill="#00c7ff"/>
<rect x="163" y="374" width="29" height="7" fill="#00bfff"/>
<rect x="192" y="374" width="58" height="7" fill="#00c7ff"/>
<rect x="250" y="374" width="30" height="7" fill="#00a6ff"/>
<rect x="280" y="374" width="29" height="7" fill="#00bfff"/>
<rect x="309" y="374" width="29" height="7" fill="#00b2ff"/>
<rect x="338" y="374" width="29" height="7" fill="#00d2ff"/>
<rect x="367" y="374" width="29" height="7" fill="#00c7ff"/>
<rect x="396" y="374" width="29" height="7" fill="#00cfff"/>
<rect x="425" y="374" width="29" height="7" fill="#00c3ff"/>
<rect x="454" y="374" width="29" height="7" fill="#00a6ff"/>
<rect x="483" y="374" width="29" height="7" fill="#00bfff"/>
<rect x="512" y="374" width="29" height="7" fill="#00c7ff"/>
<rect x="541" y="374" width="29" height="7" fill="#00b2ff"/>
<rect x="570" y="374" width="29" height="7" fill="#00c7ff"/>
<rect x="599" y="374" width="59" height="7" fill="#00bfff"/>
<rect x="658" y="374" width="41" height="7" fill="#00c7ff"/>
<rect x="103" y="381" width="31" height="5" fill="#00d2ff"/>
<rect x="134" y="381" width="29" height="5" fill="#00ecff"/>
<rect x="163" y="381" width="29" height="5" fill="#00e6ff"/>
<rect x="192" y="381" width="29" height="5" fill="#00d9ff"/>
<rect x="221" y="381" width="29" height="5" fill="#00dfff"/>
<rect x="250" y="381" width="30" height="5" fill="#00ecff"/>
<rect x="280" y="381" width="29" height="5" fill="#00dfff"/>
<rect x="309" y="381" width="29" height="5" fill="#00f9ff"/>
<rect x="338" y="381" width="29" height="5" fill="#00f2ff"/>
<rect x="367" y="381" width="29" height="5" fill="#00ecff"/>
<rect x="396" y="381" width="29" height="5" fill="#00e6ff"/>
<rect x="425" y="381" width="29" height="5" fill="#00d2ff"/>
<rect x="454" y="381" width="29" height="5" fill="#00f2ff"/>
<rect x="483" y="381" width="58" height="5" fill="#00dfff"/>
<rect x="541" y="381" width="58" height="5" fill="#00e6ff"/>
<rect x="599" y="381" width="29" height="5" fill="#00dfff"/>
<rect x="628" y="381" width="30" height="5" fill="#00ecff"/>
<rect x="658" y="381" width="29" height="5" fill="#00f2ff"/>
<rect x="687" y="381" width="12" height="5" fill="#00ecff"/>
<rect x="103" y="386" width="31" height="5" fill="#00f2ff"/>
<rect x="134" y="386" width="58" height="5" fill="#00f9ff"/>
<rect x="192" y="386" width="29" height="5" fill="#00fff2"/>
<rect x="221" y="386" width="29" height="5" fill="#00fff9"/>
<rect x="250" y="386" width="59" height="5" fill="#00ffff"/>
<rect x="309" y="386" width="58" height="5" fill="#00fff2"/>
<rect x="367" y="386" width="29" height="5" fill="#00ffff"/>
<rect x="396" y="386" width="29" height="5" fill="#00f9ff"/>
<rect x="425" y="386" width="29" height="5" fill="#00ffff"/>
<rect x="454" y="386" width="29" height="5" fill="#00fff2"/>
<rect x="483" y="386" width="29" height="5" fill="#00ffec"/>
<rect x="512" y="386" width="29" height="5" fill="#00fff2"/>
<rect x="541" y="386" width="58" height="5" fill="#00ffff"/>
<rect x="599" y="386" width="59" height="5" fill="#00fff9"/>
<rect x="658" y="386" width="29" height="5" fill="#00ffe5"/>
<rect x="687" y="386" width="12" height="5" fill="#00fff2"/>
<rect x="103" y="391" width="31" height="5" fill="#00ffff"/>
<rect x="134" y="391" width="29" height="5" fill="#00fff2"/>
<rect x="163" y="391" width="29" height="5" fill="#00ffec"/>
<rect x="192" y="391" width="88" height="5" fill="#00ffdf"/>
<rect x="280" y="391" width="29" height="5" fill="#00ffd2"/>
<rect x="309" y="391" width="29" height="5" fill="#00ffbf"/>
<rect x="338" y="391" width="29" height="5" fill="#00ffec"/>
<rect x="367" y="391" width="58" height="5" fill="#00fff9"/>
<rect x="425" y="391" width="58" height="5" fill="#00ffcc"/>
<rect x="483" y="391" width="58" height="5" fill="#00fff2"/>
<rect x="541" y="391" width="29" height="5" fill="#00fff9"/>
<rect x="570" y="391" width="29" height="5" fill="#00ffe5"/>
<rect x="599" y="391" width="29" height="5" fill="#00ffec"/>
<rect x="628" y="391" width="30" height="5" fill="#00fff2"/>
<rect x="658" y="391" width="29" height="5" fill="#00ffd9"/>
<rect x="687" y="391" width="12" height="5" fill="#00ffec"/>
<rect x="103" y="396" width="31" height="6" fill="#00ffff"/>
<rect x="134" y="396" width="29" height="6" fill="#00fff2"/>
<rect x="163" y="396" width="29" height="6" fill="#00ffec"/>
<rect x="192" y="396" width="58" height="6" fill="#00ffdf"/>
<rect x="250" y="396" width="30" height="6" fill="#00ffbf"/>
<rect x="280" y="396" width="29" height="6" fill="#00ffec"/>
<rect x="309" y="396" width="58" height="6" fill="#00fff2"/>
<rect x="367" y="396" width="58" height="6" fill="#00ffff"/>
<rect x="425" y="396" width="58" height="6" fill="#00fff9"/>
<rect x="483" y="396" width="29" height="6" fill="#00ffff"/>
<rect x="512" y="396" width="29" height="6" fill="#00ff40"/>
<rect x="541" y="396" width="117" height="6" fill="#00ffff"/>
<rect x="658" y="396" width="29" height="6" fill="#00fff2"/>
<rect x="687" y="396" width="12" height="6" fill="#00ffff"/>
<rect x="103" y="402" width="31" height="5" fill="#00dfff"/>
<rect x="134" y="402" width="29" height="5" fill="#00cfff"/>
<rect x="163" y="402" width="29" height="5" fill="#00dfff"/>
<rect x="192" y="402" width="29" height="5" fill="#00c7ff"/>
<rect x="221" y="402" width="29" height="5" fill="#00d2ff"/>
<rect x="250" y="402" width="59" height="5" fill="#00dfff"/>
<rect x="309" y="402" width="29" height="5" fill="#00d9ff"/>
<rect x="338" y="402" width="29" height="5" fill="#00e6ff"/>
<rect x="367" y="402" width="29" height="5" fill="#00ecff"/>
<rect x="396" y="402" width="29" height="5" fill="#00e6ff"/>
<rect x="425" y="402" width="58" height="5" fill="#00dfff"/>
<rect x="483" y="402" width="29" height="5" fill="#00ecff"/>
<rect x="512" y="402" width="29" height="5" fill="#ccff00"/>
<rect x="541" y="402" width="117" height="5" fill="#00e6ff"/>
<rect x="658" y="402" width="29" height="5" fill="#00ecff"/>
<rect x="687" y="402" width="12" height="5" fill="#00e6ff"/>
<rect x="103" y="407" width="2" height="4" fill="#0053ff"/>
<rect x="105" y="407" width="29" height="4" fill="#0099ff"/>
<rect x="134" y="407" width="29" height="4" fill="#00c7ff"/>
<rect x="163" y="407" width="58" height="4" fill="#009fff"/>
<rect x="221" y="407" width="29" height="4" fill="#0093ff"/>
<rect x="250" y="407" width="30" height="4" fill="#00b9ff"/>
<rect x="280" y="407" width="29" height="4" fill="#009fff"/>
<rect x="309" y="407" width="29" height="4" fill="#00c3ff"/>
<rect x="338" y="407" width="29" height="4" fill="#0073ff"/>
<rect x="367" y="407" width="29" height="4" fill="#00d2ff"/>
<rect x="396" y="407" width="58" height="4" fill="#00b2ff"/>
<rect x="454" y="407" width="29" height="4" fill="#00acff"/>
<rect x="483" y="407" width="29" height="4" fill="#00b2ff"/>
<rect x="512" y="407" width="29" height="4" fill="#fff200"/>
<rect x="541" y="407" width="29" height="4" fill="#00acff"/>
<rect x="570" y="407" width="29" height="4" fill="#00b9ff"/>
<rect x="599" y="407" width="29" height="4" fill="#00b2ff"/>
<rect x="628" y="407" width="30" height="4" fill="#0093ff"/>
<rect x="658" y="407" width="29" height="4" fill="#00b9ff"/>
<rect x="687" y="407" width="12" height="4" fill="#00bfff"/>
<rect x="103" y="411" width="2" height="3" fill="#0053ff"/>
<rect x="105" y="411" width="29" height="3" fill="#0099ff"/>
<rect x="134" y="411" width="29" height="3" fill="#00c7ff"/>
<rect x="163" y="411" width="29" height="3" fill="#00ccff"/>
<rect x="192" y="411" width="29" height="3" fill="#009fff"/>
<rect x="221" y="411" width="29" height="3" fill="#00b2ff"/>
<rect x="250" y="411" width="30" height="3" fill="#00b9ff"/>
<rect x="280" y="411" width="29" height="3" fill="#009fff"/>
<rect x="309" y="411" width="29" height="3" fill="#00c3ff"/>
<rect x="338" y="411" width="29" height="3" fill="#00acff"/>
<rect x="367" y="411" width="29" height="3" fill="#0086ff"/>
<rect x="396" y="411" width="29" height="3" fill="#00b2ff"/>
<rect x="425" y="411" width="29" height="3" fill="#0093ff"/>
<rect x="454" y="411" width="29" height="3" fill="#00acff"/>
<rect x="483" y="411" width="29" height="3" fill="#00b2ff"/>
<rect x="512" y="411" width="29" height="3" fill="#fff200"/>
<rect x="541" y="411" width="29" height="3" fill="#00acff"/>
<rect x="570" y="411" width="29" height="3" fill="#00b9ff"/>
<rect x="599" y="411" width="29" height="3" fill="#00b2ff"/>
<rect x="628" y="411" width="59" height="3" fill="#00b9ff"/>
<rect x="687" y="411" width="12" height="3" fill="#00bfff"/>
<rect x="103" y="414" width="31" height="4" fill="#00cfff"/>
<rect x="134" y="414" width="29" height="4" fill="#00c7ff"/>
<rect x="163" y="414" width="29" height="4" fill="#0099ff"/>
<rect x="192" y="414" width="29" height="4" fill="#00bfff"/>
<rect x="221" y="414" width="59" height="4" fill="#00b9ff"/>
<rect x="280" y="414" width="29" height="4" fill="#00c7ff"/>
<rect x="309" y="414" width="29" height="4" fill="#00b9ff"/>
<rect x="338" y="414" width="29" height="4" fill="#00acff"/>
<rect x="367" y="414" width="87" height="4" fill="#00c3ff"/>
<rect x="454" y="414" width="29" height="4" fill="#00bfff"/>
<rect x="483" y="414" width="29" height="4" fill="#00acff"/>
<rect x="512" y="414" width="29" height="4" fill="#ffff00"/>
<rect x="541" y="414" width="58" height="4" fill="#00c7ff"/>
<rect x="599" y="414" width="29" height="4" fill="#00a6ff"/>
<rect x="628" y="414" width="59" height="4" fill="#00c7ff"/>
<rect x="687" y="414" width="12" height="4" fill="#00a6ff"/>
<rect x="103" y="418" width="409" height="2" fill="#00ff20"/>
<rect x="512" y="418" width="29" height="2" fill="#ffff00"/>
<rect x="541" y="418" width="158" height="2" fill="#00ff20"/>
<rect x="103" y="434" width="47" height="8" fill="#00e6ff"/>
<rect x="150" y="434" width="46" height="8" fill="#00f2ff"/>
<rect x="196" y="434" width="137" height="8" fill="#00f9ff"/>
<rect x="333" y="434" width="46" height="8" fill="#00f2ff"/>
<rect x="379" y="434" width="92" height="8" fill="#00f9ff"/>
<rect x="471" y="434" width="46" height="8" fill="#00f2ff"/>
<rect x="517" y="434" width="182" height="8" fill="#00ffff"/>
<rect x="103" y="442" width="93" height="9" fill="#00ffec"/>
<rect x="196" y="442" width="46" height="9" fill="#00f9ff"/>
<rect x="242" y="442" width="91" height="9" fill="#00ffec"/>
<rect x="333" y="442" width="46" height="9" fill="#00e6ff"/>
<rect x="379" y="442" width="46" height="9" fill="#00ffff"/>
<rect x="425" y="442" width="46" height="9" fill="#00fff9"/>
<rect x="471" y="442" width="46" height="9" fill="#00ffff"/>
<rect x="517" y="442" width="137" height="9" fill="#00fff2"/>
<rect x="654" y="442" width="45" height="9" fill="#00fff9"/>
<rect x="103" y="451" width="47" height="7" fill="#00ffbf"/>
<rect x="150" y="451" width="46" height="7" fill="#00ffa6"/>
<rect x="196" y="451" width="46" height="7" fill="#00ffb2"/>
<rect x="242" y="451" width="46" height="7" fill="#00ffa6"/>
<rect x="288" y="451" width="45" height="7" fill="#00ffac"/>
<rect x="333" y="451" width="46" height="7" fill="#00ffa6"/>
<rect x="379" y="451" width="46" height="7" fill="#00ffff"/>
<rect x="425" y="451" width="46" height="7" fill="#00ffac"/>
<rect x="471" y="451" width="46" height="7" fill="#00ffbf"/>
<rect x="517" y="451" width="46" height="7" fill="#00ff9f"/>
<rect x="563" y="451" width="91" height="7" fill="#00ffac"/>
<rect x="654" y="451" width="45" height="7" fill="#00ffbf"/>
<rect x="103" y="458" width="47" height="6" fill="#00ff99"/>
<rect x="150" y="458" width="46" height="6" fill="#00ff73"/>
<rect x="196" y="458" width="46" height="6" fill="#00ff8c"/>
<rect x="242" y="458" width="91" height="6" fill="#00ff80"/>
<rect x="333" y="458" width="46" height="6" fill="#00ff73"/>
<rect x="379" y="458" width="46" height="6" fill="#00ff80"/>
<rect x="425" y="458" width="46" height="6" fill="#00ff8c"/>
<rect x="471" y="458" width="46" height="6" fill="#00ff9f"/>
<rect x="517" y="458" width="92" height="6" fill="#00ff80"/>
<rect x="609" y="458" width="45" height="6" fill="#00ff73"/>
<rect x="654" y="458" width="45" height="6" fill="#00ff80"/>
<rect x="103" y="464" width="47" height="5" fill="#00ff80"/>
<rect x="150" y="464" width="46" height="5" fill="#00ff59"/>
<rect x="196" y="464" width="46" height="5" fill="#00ff6c"/>
<rect x="242" y="464" width="46" height="5" fill="#00ff59"/>
<rect x="288" y="464" width="45" height="5" fill="#00ff60"/>
<rect x="333" y="464" width="138" height="5" fill="#00ff4c"/>
<rect x="471" y="464" width="46" height="5" fill="#00ff6c"/>
<rect x="517" y="464" width="92" height="5" fill="#00ff4c"/>
<rect x="609" y="464" width="45" height="5" fill="#00ff59"/>
<rect x="654" y="464" width="45" height="5" fill="#00ff4c"/>
<rect x="103" y="469" width="47" height="5" fill="#00ff40"/>
<rect x="150" y="469" width="46" height="5" fill="#00ff2d"/>
<rect x="196" y="469" width="46" height="5" fill="#00ff33"/>
<rect x="242" y="469" width="46" height="5" fill="#00ff20"/>
<rect x="288" y="469" width="45" height="5" fill="#00ff2d"/>
<rect x="333" y="469" width="46" height="5" fill="#00ff26"/>
<rect x="379" y="469" width="46" height="5" fill="#00ff2d"/>
<rect x="425" y="469" width="46" height="5" fill="#00ff26"/>
<rect x="471" y="469" width="92" height="5" fill="#00ff40"/>
<rect x="563" y="469" width="46" height="5" fill="#00ff33"/>
<rect x="609" y="469" width="45" height="5" fill="#00ff4c"/>
<rect x="654" y="469" width="45" height="5" fill="#00ff33"/>
<rect x="103" y="474" width="47" height="5" fill="#00ff59"/>
<rect x="150" y="474" width="92" height="5" fill="#00ff4c"/>
<rect x="242" y="474" width="46" height="5" fill="#00ff33"/>
<rect x="288" y="474" width="45" height="5" fill="#00ff4c"/>
<rect x="333" y="474" width="138" height="5" fill="#00ff33"/>
<rect x="471" y="474" width="46" height="5" fill="#00ff4c"/>
<rect x="517" y="474" width="46" height="5" fill="#00ff40"/>
<rect x="563" y="474" width="136" height="5" fill="#00ff4c"/>
<rect x="103" y="479" width="47" height="6" fill="#00ff99"/>
<rect x="150" y="479" width="46" height="6" fill="#00ff8c"/>
<rect x="196" y="479" width="46" height="6" fill="#00ff99"/>
<rect x="242" y="479" width="229" height="6" fill="#00ff8c"/>
<rect x="471" y="479" width="46" height="6" fill="#00ff99"/>
<rect x="517" y="479" width="182" height="6" fill="#00ff8c"/>
<rect x="103" y="485" width="47" height="4" fill="#00ffac"/>
<rect x="150" y="485" width="46" height="4" fill="#00ffbf"/>
<rect x="196" y="485" width="46" height="4" fill="#00ffb2"/>
<rect x="242" y="485" width="46" height="4" fill="#00ffcc"/>
<rect x="288" y="485" width="45" height="4" fill="#00ffb2"/>
<rect x="333" y="485" width="46" height="4" fill="#00ffcc"/>
<rect x="379" y="485" width="46" height="4" fill="#00ffb2"/>
<rect x="425" y="485" width="46" height="4" fill="#00ffbf"/>
<rect x="471" y="485" width="46" height="4" fill="#00ffb2"/>
<rect x="517" y="485" width="92" height="4" fill="#00ffac"/>
<rect x="609" y="485" width="45" height="4" fill="#00ffd9"/>
<rect x="654" y="485" width="45" height="4" fill="#00ffac"/>
<rect x="103" y="489" width="47" height="3" fill="#00ffac"/>
<rect x="150" y="489" width="46" height="3" fill="#00ffbf"/>
<rect x="196" y="489" width="46" height="3" fill="#00ffb2"/>
<rect x="242" y="489" width="46" height="3" fill="#00ffcc"/>
<rect x="288" y="489" width="137" height="3" fill="#00ff99"/>
<rect x="425" y="489" width="46" height="3" fill="#00ff8c"/>
<rect x="471" y="489" width="46" height="3" fill="#00ff99"/>
<rect x="517" y="489" width="182" height="3" fill="#00ff8c"/>
<rect x="103" y="492" width="185" height="4" fill="#a6ff00"/>
<rect x="288" y="492" width="45" height="4" fill="#bfff00"/>
<rect x="333" y="492" width="46" height="4" fill="#b3ff00"/>
<rect x="379" y="492" width="46" height="4" fill="#bfff00"/>
<rect x="425" y="492" width="92" height="4" fill="#ffff00"/>
<rect x="517" y="492" width="182" height="4" fill="#fff900"/>
<rect x="103" y="496" width="596" height="2" fill="#ff0000"/>
<rect x="103" y="512" width="24" height="8" fill="#00d9ff"/>
<rect x="127" y="512" width="43" height="8" fill="#00dfff"/>
<rect x="170" y="512" width="44" height="8" fill="#00cbff"/>
<rect x="214" y="512" width="130" height="8" fill="#00d2ff"/>
<rect x="344" y="512" width="87" height="8" fill="#00d9ff"/>
<rect x="431" y="512" width="44" height="8" fill="#00cbff"/>
<rect x="475" y="512" width="43" height="8" fill="#00d9ff"/>
<rect x="518" y="512" width="44" height="8" fill="#00d2ff"/>
<rect x="562" y="512" width="43" height="8" fill="#00cfff"/>
<rect x="605" y="512" width="44" height="8" fill="#00d2ff"/>
<rect x="649" y="512" width="43" height="8" fill="#00cbff"/>
<rect x="692" y="512" width="7" height="8" fill="#00d2ff"/>
<rect x="103" y="520" width="24" height="9" fill="#00e6ff"/>
<rect x="127" y="520" width="43" height="9" fill="#00ecff"/>
<rect x="170" y="520" width="44" height="9" fill="#00cfff"/>
<rect x="214" y="520" width="174" height="9" fill="#00d9ff"/>
<rect x="388" y="520" width="43" height="9" fill="#00dfff"/>
<rect x="431" y="520" width="44" height="9" fill="#00e6ff"/>
<rect x="475" y="520" width="87" height="9" fill="#00dfff"/>
<rect x="562" y="520" width="43" height="9" fill="#00e6ff"/>
<rect x="605" y="520" width="44" height="9" fill="#00f2ff"/>
<rect x="649" y="520" width="43" height="9" fill="#00c7ff"/>
<rect x="692" y="520" width="7" height="9" fill="#00bfff"/>
<rect x="103" y="529" width="24" height="7" fill="#00fff2"/>
<rect x="127" y="529" width="43" height="7" fill="#00ffcc"/>
<rect x="170" y="529" width="44" height="7" fill="#00ffec"/>
<rect x="214" y="529" width="43" height="7" fill="#00ffdf"/>
<rect x="257" y="529" width="44" height="7" fill="#00ffe5"/>
<rect x="301" y="529" width="43" height="7" fill="#00ffec"/>
<rect x="344" y="529" width="44" height="7" fill="#00ffff"/>
<rect x="388" y="529" width="174" height="7" fill="#00fff2"/>
<rect x="562" y="529" width="43" height="7" fill="#00ffff"/>
<rect x="605" y="529" width="44" height="7" fill="#00ffec"/>
<rect x="649" y="529" width="50" height="7" fill="#00fff9"/>
<rect x="103" y="536" width="24" height="6" fill="#00ffcc"/>
<rect x="127" y="536" width="43" height="6" fill="#00ffb2"/>
<rect x="170" y="536" width="174" height="6" fill="#00ffbf"/>
<rect x="344" y="536" width="174" height="6" fill="#00ffcc"/>
<rect x="518" y="536" width="44" height="6" fill="#00ffbf"/>
<rect x="562" y="536" width="43" height="6" fill="#00ffd9"/>
<rect x="605" y="536" width="44" height="6" fill="#00ffb2"/>
<rect x="649" y="536" width="50" height="6" fill="#00ffcc"/>
<rect x="103" y="542" width="24" height="5" fill="#00ffac"/>
<rect x="127" y="542" width="43" height="5" fill="#00ff99"/>
<rect x="170" y="542" width="87" height="5" fill="#00ff9f"/>
<rect x="257" y="542" width="44" height="5" fill="#00ff99"/>
<rect x="301" y="542" width="43" height="5" fill="#00ff9f"/>
<rect x="344" y="542" width="87" height="5" fill="#00ffac"/>
<rect x="431" y="542" width="87" height="5" fill="#00ff9f"/>
<rect x="518" y="542" width="44" height="5" fill="#00ff99"/>
<rect x="562" y="542" width="43" height="5" fill="#00ffac"/>
<rect x="605" y="542" width="44" height="5" fill="#00ff99"/>
<rect x="649" y="542" width="50" height="5" fill="#00ffa6"/>
<rect x="103" y="547" width="24" height="5" fill="#00ff9f"/>
<rect x="127" y="547" width="87" height="5" fill="#00ff8c"/>
<rect x="214" y="547" width="43" height="5" fill="#00ff99"/>
<rect x="257" y="547" width="44" height="5" fill="#00ff80"/>
<rect x="301" y="547" width="43" height="5" fill="#00ff8c"/>
<rect x="344" y="547" width="87" height="5" fill="#00ff99"/>
<rect x="431" y="547" width="268" height="5" fill="#00ff8c"/>
<rect x="103" y="552" width="24" height="5" fill="#00ffac"/>
<rect x="127" y="552" width="130" height="5" fill="#00ff9f"/>
<rect x="257" y="552" width="44" height="5" fill="#00ff99"/>
<rect x="301" y="552" width="43" height="5" fill="#00ffbf"/>
<rect x="344" y="552" width="44" height="5" fill="#00ff9f"/>
<rect x="388" y="552" width="43" height="5" fill="#00ffac"/>
<rect x="431" y="552" width="87" height="5" fill="#00ff9f"/>
<rect x="518" y="552" width="44" height="5" fill="#00ff99"/>
<rect x="562" y="552" width="43" height="5" fill="#00ffac"/>
<rect x="605" y="552" width="44" height="5" fill="#00ff9f"/>
<rect x="649" y="552" width="50" height="5" fill="#00ffac"/>
<rect x="103" y="557" width="24" height="6" fill="#00ffec"/>
<rect x="127" y="557" width="43" height="6" fill="#00ffcc"/>
<rect x="170" y="557" width="44" height="6" fill="#00ffd9"/>
<rect x="214" y="557" width="87" height="6" fill="#00ffcc"/>
<rect x="301" y="557" width="43" height="6" fill="#00ffec"/>
<rect x="344" y="557" width="131" height="6" fill="#00ffd9"/>
<rect x="475" y="557" width="87" height="6" fill="#00ffcc"/>
<rect x="562" y="557" width="43" height="6" fill="#00fff2"/>
<rect x="605" y="557" width="44" height="6" fill="#00ffbf"/>
<rect x="649" y="557" width="50" height="6" fill="#00ffd9"/>
<rect x="103" y="563" width="24" height="4" fill="#00f9ff"/>
<rect x="127" y="563" width="87" height="4" fill="#00fff9"/>
<rect x="214" y="563" width="43" height="4" fill="#00f9ff"/>
<rect x="257" y="563" width="44" height="4" fill="#00fff9"/>
<rect x="301" y="563" width="43" height="4" fill="#00e6ff"/>
<rect x="344" y="563" width="44" height="4" fill="#00ffff"/>
<rect x="388" y="563" width="43" height="4" fill="#00fff9"/>
<rect x="431" y="563" width="44" height="4" fill="#00f9ff"/>
<rect x="475" y="563" width="43" height="4" fill="#00e6ff"/>
<rect x="518" y="563" width="44" height="4" fill="#00f2ff"/>
<rect x="562" y="563" width="87" height="4" fill="#00ffff"/>
<rect x="649" y="563" width="50" height="4" fill="#00f9ff"/>
<rect x="103" y="567" width="24" height="3" fill="#00ffcc"/>
<rect x="127" y="567" width="435" height="3" fill="#00ffbf"/>
<rect x="562" y="567" width="43" height="3" fill="#00ffcc"/>
<rect x="605" y="567" width="94" height="3" fill="#00ffbf"/>
<rect x="103" y="570" width="198" height="4" fill="#73ff00"/>
<rect x="301" y="570" width="43" height="4" fill="#8cff00"/>
<rect x="344" y="570" width="44" height="4" fill="#80ff00"/>
<rect x="388" y="570" width="43" height="4" fill="#b3ff00"/>
<rect x="431" y="570" width="44" height="4" fill="#99ff00"/>
<rect x="475" y="570" width="43" height="4" fill="#8cff00"/>
<rect x="518" y="570" width="44" height="4" fill="#80ff00"/>
<rect x="562" y="570" width="43" height="4" fill="#a6ff00"/>
<rect x="605" y="570" width="44" height="4" fill="#99ff00"/>
<rect x="649" y="570" width="50" height="4" fill="#80ff00"/>
<rect x="103" y="574" width="596" height="2" fill="#ffff00"/>
<rect x="103" y="590" width="31" height="8" fill="#006aff"/>
<rect x="134" y="590" width="36" height="8" fill="#008cff"/>
<rect x="170" y="590" width="35" height="8" fill="#0093ff"/>
<rect x="205" y="590" width="36" height="8" fill="#008cff"/>
<rect x="241" y="590" width="35" height="8" fill="#0086ff"/>
<rect x="276" y="590" width="36" height="8" fill="#0080ff"/>
<rect x="312" y="590" width="35" height="8" fill="#0079ff"/>
<rect x="347" y="590" width="36" height="8" fill="#0080ff"/>
<rect x="383" y="590" width="35" height="8" fill="#0099ff"/>
<rect x="418" y="590" width="36" height="8" fill="#0079ff"/>
<rect x="454" y="590" width="77" height="8" fill="#008cff"/>
<rect x="531" y="590" width="71" height="8" fill="#0099ff"/>
<rect x="602" y="590" width="36" height="8" fill="#006aff"/>
<rect x="638" y="590" width="36" height="8" fill="#0080ff"/>
<rect x="674" y="590" width="25" height="8" fill="#009fff"/>
<rect x="103" y="598" width="31" height="9" fill="#0093ff"/>
<rect x="134" y="598" width="36" height="9" fill="#0086ff"/>
<rect x="170" y="598" width="35" height="9" fill="#0073ff"/>
<rect x="205" y="598" width="36" height="9" fill="#008cff"/>
<rect x="241" y="598" width="35" height="9" fill="#0099ff"/>
<rect x="276" y="598" width="36" height="9" fill="#0093ff"/>
<rect x="312" y="598" width="35" height="9" fill="#0086ff"/>
<rect x="347" y="598" width="36" height="9" fill="#008cff"/>
<rect x="383" y="598" width="35" height="9" fill="#0079ff"/>
<rect x="418" y="598" width="36" height="9" fill="#0093ff"/>
<rect x="454" y="598" width="36" height="9" fill="#0080ff"/>
<rect x="490" y="598" width="77" height="9" fill="#008cff"/>
<rect x="567" y="598" width="35" height="9" fill="#0086ff"/>
<rect x="602" y="598" width="36" height="9" fill="#006aff"/>
<rect x="638" y="598" width="36" height="9" fill="#0086ff"/>
<rect x="674" y="598" width="25" height="9" fill="#00a6ff"/>
<rect x="103" y="607" width="31" height="7" fill="#00c7ff"/>
<rect x="134" y="607" width="36" height="7" fill="#00c3ff"/>
<rect x="170" y="607" width="35" height="7" fill="#00a6ff"/>
<rect x="205" y="607" width="71" height="7" fill="#00c7ff"/>
<rect x="276" y="607" width="36" height="7" fill="#00cbff"/>
<rect x="312" y="607" width="35" height="7" fill="#00bfff"/>
<rect x="347" y="607" width="36" height="7" fill="#009fff"/>
<rect x="383" y="607" width="184" height="7" fill="#00c7ff"/>
<rect x="567" y="607" width="35" height="7" fill="#00c3ff"/>
<rect x="602" y="607" width="97" height="7" fill="#00c7ff"/>
<rect x="103" y="614" width="31" height="6" fill="#00e6ff"/>
<rect x="134" y="614" width="36" height="6" fill="#00ecff"/>
<rect x="170" y="614" width="35" height="6" fill="#00e6ff"/>
<rect x="205" y="614" width="36" height="6" fill="#00f2ff"/>
<rect x="241" y="614" width="71" height="6" fill="#00ecff"/>
<rect x="312" y="614" width="35" height="6" fill="#00dfff"/>
<rect x="347" y="614" width="71" height="6" fill="#00ecff"/>
<rect x="418" y="614" width="36" height="6" fill="#00e6ff"/>
<rect x="454" y="614" width="36" height="6" fill="#00ecff"/>
<rect x="490" y="614" width="41" height="6" fill="#00dfff"/>
<rect x="531" y="614" width="36" height="6" fill="#00ecff"/>
<rect x="567" y="614" width="35" height="6" fill="#00d9ff"/>
<rect x="602" y="614" width="36" height="6" fill="#00f2ff"/>
<rect x="638" y="614" width="36" height="6" fill="#00ecff"/>
<rect x="674" y="614" width="25" height="6" fill="#00e6ff"/>
<rect x="103" y="620" width="31" height="5" fill="#00fff9"/>
<rect x="134" y="620" width="36" height="5" fill="#00ffcc"/>
<rect x="170" y="620" width="177" height="5" fill="#00fff2"/>
<rect x="347" y="620" width="36" height="5" fill="#00ffcc"/>
<rect x="383" y="620" width="35" height="5" fill="#00fff9"/>
<rect x="418" y="620" width="72" height="5" fill="#00fff2"/>
<rect x="490" y="620" width="41" height="5" fill="#00ffec"/>
<rect x="531" y="620" width="36" height="5" fill="#00ffe5"/>
<rect x="567" y="620" width="35" height="5" fill="#00ffff"/>
<rect x="602" y="620" width="36" height="5" fill="#00fff2"/>
<rect x="638" y="620" width="36" height="5" fill="#00ffec"/>
<rect x="674" y="620" width="25" height="5" fill="#00fff9"/>
<rect x="103" y="625" width="31" height="5" fill="#00fff9"/>
<rect x="134" y="625" width="71" height="5" fill="#00fff2"/>
<rect x="205" y="625" width="36" height="5" fill="#00ffcc"/>
<rect x="241" y="625" width="35" height="5" fill="#00ffdf"/>
<rect x="276" y="625" width="36" height="5" fill="#00ffd9"/>
<rect x="312" y="625" width="35" height="5" fill="#00ffec"/>
<rect x="347" y="625" width="36" height="5" fill="#00ffbf"/>
<rect x="383" y="625" width="35" height="5" fill="#00fff9"/>
<rect x="418" y="625" width="36" height="5" fill="#00ffec"/>
<rect x="454" y="625" width="36" height="5" fill="#00ffdf"/>
<rect x="490" y="625" width="41" height="5" fill="#00ffcc"/>
<rect x="531" y="625" width="36" height="5" fill="#00ffbf"/>
<rect x="567" y="625" width="35" height="5" fill="#00fff2"/>
<rect x="602" y="625" width="36" height="5" fill="#00ffec"/>
<rect x="638" y="625" width="36" height="5" fill="#00ffd9"/>
<rect x="674" y="625" width="25" height="5" fill="#00fff2"/>
<rect x="103" y="630" width="31" height="5" fill="#00fff9"/>
<rect x="134" y="630" width="71" height="5" fill="#00fff2"/>
<rect x="205" y="630" width="36" height="5" fill="#00ffcc"/>
<rect x="241" y="630" width="35" height="5" fill="#00ffdf"/>
<rect x="276" y="630" width="107" height="5" fill="#00fff2"/>
<rect x="383" y="630" width="35" height="5" fill="#00ffff"/>
<rect x="418" y="630" width="36" height="5" fill="#00fff9"/>
<rect x="454" y="630" width="77" height="5" fill="#00fff2"/>
<rect x="531" y="630" width="36" height="5" fill="#00ffec"/>
<rect x="567" y="630" width="71" height="5" fill="#00fff2"/>
<rect x="638" y="630" width="36" height="5" fill="#00ffdf"/>
<rect x="674" y="630" width="25" height="5" fill="#00fff9"/>
<rect x="103" y="635" width="31" height="6" fill="#00e6ff"/>
<rect x="134" y="635" width="249" height="6" fill="#00f2ff"/>
<rect x="383" y="635" width="35" height="6" fill="#00ecff"/>
<rect x="418" y="635" width="72" height="6" fill="#00f2ff"/>
<rect x="490" y="635" width="41" height="6" fill="#00d2ff"/>
<rect x="531" y="635" width="71" height="6" fill="#00f9ff"/>
<rect x="602" y="635" width="97" height="6" fill="#00f2ff"/>
<rect x="103" y="641" width="67" height="4" fill="#00c7ff"/>
<rect x="170" y="641" width="35" height="4" fill="#0099ff"/>
<rect x="205" y="641" width="71" height="4" fill="#00cbff"/>
<rect x="276" y="641" width="36" height="4" fill="#00c7ff"/>
<rect x="312" y="641" width="35" height="4" fill="#00d2ff"/>
<rect x="347" y="641" width="36" height="4" fill="#0099ff"/>
<rect x="383" y="641" width="35" height="4" fill="#00cfff"/>
<rect x="418" y="641" width="36" height="4" fill="#00c7ff"/>
<rect x="454" y="641" width="36" height="4" fill="#00cfff"/>
<rect x="490" y="641" width="77" height="4" fill="#00d9ff"/>
<rect x="567" y="641" width="35" height="4" fill="#00bfff"/>
<rect x="602" y="641" width="36" height="4" fill="#0099ff"/>
<rect x="638" y="641" width="36" height="4" fill="#00b2ff"/>
<rect x="674" y="641" width="25" height="4" fill="#00cfff"/>
<rect x="103" y="645" width="138" height="3" fill="#00d9ff"/>
<rect x="241" y="645" width="35" height="3" fill="#00d2ff"/>
<rect x="276" y="645" width="36" height="3" fill="#00d9ff"/>
<rect x="312" y="645" width="35" height="3" fill="#00dfff"/>
<rect x="347" y="645" width="71" height="3" fill="#00d2ff"/>
<rect x="418" y="645" width="36" height="3" fill="#00c7ff"/>
<rect x="454" y="645" width="36" height="3" fill="#00d2ff"/>
<rect x="490" y="645" width="41" height="3" fill="#00d9ff"/>
<rect x="531" y="645" width="36" height="3" fill="#00c7ff"/>
<rect x="567" y="645" width="35" height="3" fill="#00dfff"/>
<rect x="602" y="645" width="36" height="3" fill="#00d2ff"/>
<rect x="638" y="645" width="36" height="3" fill="#00bfff"/>
<rect x="674" y="645" width="25" height="3" fill="#00d2ff"/>
<rect x="103" y="648" width="31" height="4" fill="#00ff80"/>
<rect x="134" y="648" width="397" height="4" fill="#00e6ff"/>
<rect x="531" y="648" width="36" height="4" fill="#00d9ff"/>
<rect x="567" y="648" width="107" height="4" fill="#00e6ff"/>
<rect x="674" y="648" width="25" height="4" fill="#00dfff"/>
<rect x="103" y="652" width="31" height="2" fill="#73ff00"/>
<rect x="134" y="652" width="71" height="2" fill="#00ff00"/>
<rect x="205" y="652" width="71" height="2" fill="#00ff0d"/>
<rect x="276" y="652" width="214" height="2" fill="#00ff20"/>
<rect x="490" y="652" width="41" height="2" fill="#00ff33"/>
<rect x="531" y="652" width="168" height="2" fill="#00ff40"/>
<rect x="103" y="668" width="39" height="8" fill="#00ff9f"/>
<rect x="142" y="668" width="43" height="8" fill="#00ff99"/>
<rect x="185" y="668" width="85" height="8" fill="#00ff93"/>
<rect x="270" y="668" width="86" height="8" fill="#00ffa6"/>
<rect x="356" y="668" width="43" height="8" fill="#00ff80"/>
<rect x="399" y="668" width="43" height="8" fill="#00ffac"/>
<rect x="442" y="668" width="43" height="8" fill="#00ff80"/>
<rect x="485" y="668" width="43" height="8" fill="#00ffac"/>
<rect x="528" y="668" width="42" height="8" fill="#00ff9f"/>
<rect x="570" y="668" width="43" height="8" fill="#00ff8c"/>
<rect x="613" y="668" width="43" height="8" fill="#00ff9f"/>
<rect x="656" y="668" width="43" height="8" fill="#00ff86"/>
<rect x="103" y="676" width="39" height="9" fill="#00ff99"/>
<rect x="142" y="676" width="43" height="9" fill="#00ff8c"/>
<rect x="185" y="676" width="85" height="9" fill="#00ff59"/>
<rect x="270" y="676" width="43" height="9" fill="#00ff9f"/>
<rect x="313" y="676" width="43" height="9" fill="#00ffb2"/>
<rect x="356" y="676" width="43" height="9" fill="#00ff8c"/>
<rect x="399" y="676" width="86" height="9" fill="#00ff80"/>
<rect x="485" y="676" width="43" height="9" fill="#00ff86"/>
<rect x="528" y="676" width="42" height="9" fill="#00ff93"/>
<rect x="570" y="676" width="43" height="9" fill="#00ff66"/>
<rect x="613" y="676" width="43" height="9" fill="#00ff99"/>
<rect x="656" y="676" width="43" height="9" fill="#00ff80"/>
<rect x="103" y="685" width="39" height="7" fill="#13ff00"/>
<rect x="142" y="685" width="43" height="7" fill="#1aff00"/>
<rect x="185" y="685" width="43" height="7" fill="#00ff00"/>
<rect x="228" y="685" width="42" height="7" fill="#1aff00"/>
<rect x="270" y="685" width="43" height="7" fill="#0dff00"/>
<rect x="313" y="685" width="43" height="7" fill="#00ff06"/>
<rect x="356" y="685" width="86" height="7" fill="#0dff00"/>
<rect x="442" y="685" width="43" height="7" fill="#00ff00"/>
<rect x="485" y="685" width="43" height="7" fill="#06ff00"/>
<rect x="528" y="685" width="85" height="7" fill="#0dff00"/>
<rect x="613" y="685" width="43" height="7" fill="#00ff00"/>
<rect x="656" y="685" width="43" height="7" fill="#0dff00"/>
<rect x="103" y="692" width="39" height="6" fill="#59ff00"/>
<rect x="142" y="692" width="43" height="6" fill="#73ff00"/>
<rect x="185" y="692" width="43" height="6" fill="#53ff00"/>
<rect x="228" y="692" width="42" height="6" fill="#60ff00"/>
<rect x="270" y="692" width="43" height="6" fill="#66ff00"/>
<rect x="313" y="692" width="43" height="6" fill="#6cff00"/>
<rect x="356" y="692" width="43" height="6" fill="#60ff00"/>
<rect x="399" y="692" width="43" height="6" fill="#6cff00"/>
<rect x="442" y="692" width="43" height="6" fill="#33ff00"/>
<rect x="485" y="692" width="43" height="6" fill="#40ff00"/>
<rect x="528" y="692" width="85" height="6" fill="#53ff00"/>
<rect x="613" y="692" width="43" height="6" fill="#4cff00"/>
<rect x="656" y="692" width="43" height="6" fill="#60ff00"/>
<rect x="103" y="698" width="39" height="5" fill="#99ff00"/>
<rect x="142" y="698" width="43" height="5" fill="#b9ff00"/>
<rect x="185" y="698" width="43" height="5" fill="#80ff00"/>
<rect x="228" y="698" width="42" height="5" fill="#acff00"/>
<rect x="270" y="698" width="43" height="5" fill="#9fff00"/>
<rect x="313" y="698" width="43" height="5" fill="#93ff00"/>
<rect x="356" y="698" width="43" height="5" fill="#9fff00"/>
<rect x="399" y="698" width="43" height="5" fill="#80ff00"/>
<rect x="442" y="698" width="43" height="5" fill="#8cff00"/>
<rect x="485" y="698" width="43" height="5" fill="#6cff00"/>
<rect x="528" y="698" width="42" height="5" fill="#a6ff00"/>
<rect x="570" y="698" width="43" height="5" fill="#99ff00"/>
<rect x="613" y="698" width="43" height="5" fill="#8cff00"/>
<rect x="656" y="698" width="43" height="5" fill="#99ff00"/>
<rect x="103" y="703" width="39" height="5" fill="#8cff00"/>
<rect x="142" y="703" width="43" height="5" fill="#b9ff00"/>
<rect x="185" y="703" width="43" height="5" fill="#acff00"/>
<rect x="228" y="703" width="42" height="5" fill="#b9ff00"/>
<rect x="270" y="703" width="43" height="5" fill="#acff00"/>
<rect x="313" y="703" width="43" height="5" fill="#a6ff00"/>
<rect x="356" y="703" width="43" height="5" fill="#acff00"/>
<rect x="399" y="703" width="43" height="5" fill="#a6ff00"/>
<rect x="442" y="703" width="43" height="5" fill="#80ff00"/>
<rect x="485" y="703" width="43" height="5" fill="#93ff00"/>
<rect x="528" y="703" width="42" height="5" fill="#b3ff00"/>
<rect x="570" y="703" width="86" height="5" fill="#a6ff00"/>
<rect x="656" y="703" width="43" height="5" fill="#b3ff00"/>
<rect x="103" y="708" width="39" height="5" fill="#afff00"/>
<rect x="142" y="708" width="43" height="5" fill="#99ff00"/>
<rect x="185" y="708" width="85" height="5" fill="#a6ff00"/>
<rect x="270" y="708" width="43" height="5" fill="#b9ff00"/>
<rect x="313" y="708" width="43" height="5" fill="#bfff00"/>
<rect x="356" y="708" width="43" height="5" fill="#b3ff00"/>
<rect x="399" y="708" width="43" height="5" fill="#b9ff00"/>
<rect x="442" y="708" width="43" height="5" fill="#79ff00"/>
<rect x="485" y="708" width="43" height="5" fill="#99ff00"/>
<rect x="528" y="708" width="42" height="5" fill="#a6ff00"/>
<rect x="570" y="708" width="43" height="5" fill="#acff00"/>
<rect x="613" y="708" width="43" height="5" fill="#b9ff00"/>
<rect x="656" y="708" width="43" height="5" fill="#9fff00"/>
<rect x="103" y="713" width="39" height="6" fill="#46ff00"/>
<rect x="142" y="713" width="43" height="6" fill="#53ff00"/>
<rect x="185" y="713" width="85" height="6" fill="#66ff00"/>
<rect x="270" y="713" width="43" height="6" fill="#53ff00"/>
<rect x="313" y="713" width="43" height="6" fill="#60ff00"/>
<rect x="356" y="713" width="43" height="6" fill="#66ff00"/>
<rect x="399" y="713" width="43" height="6" fill="#6cff00"/>
<rect x="442" y="713" width="43" height="6" fill="#26ff00"/>
<rect x="485" y="713" width="43" height="6" fill="#20ff00"/>
<rect x="528" y="713" width="42" height="6" fill="#73ff00"/>
<rect x="570" y="713" width="43" height="6" fill="#59ff00"/>
<rect x="613" y="713" width="43" height="6" fill="#60ff00"/>
<rect x="656" y="713" width="43" height="6" fill="#53ff00"/>
<rect x="103" y="719" width="39" height="4" fill="#0dff00"/>
<rect x="142" y="719" width="43" height="4" fill="#00ff4c"/>
<rect x="185" y="719" width="43" height="4" fill="#06ff00"/>
<rect x="228" y="719" width="42" height="4" fill="#13ff00"/>
<rect x="270" y="719" width="43" height="4" fill="#00ff20"/>
<rect x="313" y="719" width="86" height="4" fill="#00ff0d"/>
<rect x="399" y="719" width="43" height="4" fill="#13ff00"/>
<rect x="442" y="719" width="43" height="4" fill="#00ff26"/>
<rect x="485" y="719" width="43" height="4" fill="#00ff20"/>
<rect x="528" y="719" width="42" height="4" fill="#00ff53"/>
<rect x="570" y="719" width="43" height="4" fill="#20ff00"/>
<rect x="613" y="719" width="86" height="4" fill="#0dff00"/>
<rect x="103" y="723" width="39" height="3" fill="#20ff00"/>
<rect x="142" y="723" width="43" height="3" fill="#00ff06"/>
<rect x="185" y="723" width="43" height="3" fill="#1aff00"/>
<rect x="228" y="723" width="42" height="3" fill="#26ff00"/>
<rect x="270" y="723" width="43" height="3" fill="#0dff00"/>
<rect x="313" y="723" width="43" height="3" fill="#00ff06"/>
<rect x="356" y="723" width="43" height="3" fill="#00ff00"/>
<rect x="399" y="723" width="43" height="3" fill="#13ff00"/>
<rect x="442" y="723" width="43" height="3" fill="#00ff0d"/>
<rect x="485" y="723" width="43" height="3" fill="#60ff00"/>
<rect x="528" y="723" width="42" height="3" fill="#00ff0d"/>
<rect x="570" y="723" width="43" height="3" fill="#13ff00"/>
<rect x="613" y="723" width="43" height="3" fill="#20ff00"/>
<rect x="656" y="723" width="43" height="3" fill="#1aff00"/>
<rect x="103" y="726" width="39" height="4" fill="#39ff00"/>
<rect x="142" y="726" width="43" height="4" fill="#6cff00"/>
<rect x="185" y="726" width="43" height="4" fill="#39ff00"/>
<rect x="228" y="726" width="42" height="4" fill="#79ff00"/>
<rect x="270" y="726" width="43" height="4" fill="#46ff00"/>
<rect x="313" y="726" width="43" height="4" fill="#13ff00"/>
<rect x="356" y="726" width="43" height="4" fill="#26ff00"/>
<rect x="399" y="726" width="43" height="4" fill="#33ff00"/>
<rect x="442" y="726" width="43" height="4" fill="#20ff00"/>
<rect x="485" y="726" width="128" height="4" fill="#59ff00"/>
<rect x="613" y="726" width="43" height="4" fill="#66ff00"/>
<rect x="656" y="726" width="43" height="4" fill="#39ff00"/>
<rect x="103" y="730" width="596" height="2" fill="#bfff00"/>
<rect x="102" y="348" width="597" height="4" fill="#ff0000"/>
<rect x="102" y="426" width="597" height="4" fill="#ff0000"/>
<rect x="102" y="504" width="597" height="4" fill="#ff0000"/>
<rect x="102" y="582" width="597" height="4" fill="#ff0000"/>
<rect x="102" y="659" width="597" height="4" fill="#ff0000"/>
<rect x="392" y="659" width="10" height="4" fill="#ffff00"/>
<rect x="424" y="659" width="10" height="4" fill="#ffff00"/>
<rect x="456" y="659" width="10" height="4" fill="#ffff00"/>
<rect x="488" y="659" width="9" height="4" fill="#ffff00"/>
<rect x="551" y="659" width="10" height="4" fill="#ffff00"/>
<rect x="690" y="659" width="9" height="4" fill="#ffff00"/>
<rect x="705" y="18" width="8" height="66" fill="#000"/>
<rect x="706" y="19" width="6" height="64" fill="url(#cb)"/>
<rect x="705" y="83" width="8" height="66" fill="#000"/>
<rect x="706" y="84" width="6" height="64" fill="url(#cb)"/>
<rect x="705" y="148" width="8" height="66" fill="#000"/>
<rect x="706" y="149" width="6" height="64" fill="url(#cb)"/>
<rect x="705" y="213" width="8" height="66" fill="#000"/>
<rect x="706" y="214" width="6" height="64" fill="url(#cb)"/>
<rect x="705" y="278" width="8" height="66" fill="#000"/>
<rect x="706" y="279" width="6" height="64" fill="url(#cb)"/>
<rect x="705" y="356" width="8" height="65" fill="#000"/>
<rect x="706" y="357" width="6" height="63" fill="url(#cb)"/>
<rect x="705" y="433" width="8" height="66" fill="#000"/>
<rect x="706" y="434" width="6" height="64" fill="url(#cb)"/>
<rect x="705" y="511" width="8" height="66" fill="#000"/>
<rect x="706" y="512" width="6" height="64" fill="url(#cb)"/>
<rect x="705" y="589" width="8" height="66" fill="#000"/>
<rect x="706" y="590" width="6" height="64" fill="url(#cb)"/>
<rect x="705" y="667" width="8" height="66" fill="#000"/>
<rect x="706" y="668" width="6" height="64" fill="url(#cb)"/>
<rect x="102" y="18" width="598" height="1" fill="#000"/>
<rect x="102" y="83" width="598" height="1" fill="#000"/>
<rect x="102" y="18" width="1" height="66" fill="#000"/>
<rect x="699" y="18" width="1" height="66" fill="#000"/>
<rect x="152" y="18" width="1" height="2" fill="#000"/>
<rect x="202" y="18" width="1" height="2" fill="#000"/>
<rect x="252" y="18" width="1" height="3" fill="#000"/>
<rect x="301" y="18" width="1" height="2" fill="#000"/>
<rect x="351" y="18" width="1" height="2" fill="#000"/>
<rect x="401" y="18" width="1" height="3" fill="#000"/>
<rect x="451" y="18" width="1" height="2" fill="#000"/>
<rect x="500" y="18" width="1" height="2" fill="#000"/>
<rect x="550" y="18" width="1" height="3" fill="#000"/>
<rect x="600" y="18" width="1" height="2" fill="#000"/>
<rect x="650" y="18" width="1" height="2" fill="#000"/>
<rect x="152" y="82" width="1" height="2" fill="#000"/>
<rect x="202" y="82" width="1" height="2" fill="#000"/>
<rect x="252" y="81" width="1" height="3" fill="#000"/>
<rect x="301" y="82" width="1" height="2" fill="#000"/>
<rect x="351" y="82" width="1" height="2" fill="#000"/>
<rect x="401" y="81" width="1" height="3" fill="#000"/>
<rect x="451" y="82" width="1" height="2" fill="#000"/>
<rect x="500" y="82" width="1" height="2" fill="#000"/>
<rect x="550" y="81" width="1" height="3" fill="#000"/>
<rect x="600" y="82" width="1" height="2" fill="#000"/>
<rect x="650" y="82" width="1" height="2" fill="#000"/>
<rect x="102" y="24" width="7" height="1" fill="#000"/>
<rect x="693" y="24" width="7" height="1" fill="#000"/>
<rect x="102" y="34" width="13" height="1" fill="#000"/>
<rect x="687" y="34" width="13" height="1" fill="#000"/>
<rect x="102" y="35" width="7" height="1" fill="#000"/>
<rect x="693" y="35" width="7" height="1" fill="#000"/>
<rect x="102" y="37" width="7" height="1" fill="#000"/>
<rect x="693" y="37" width="7" height="1" fill="#000"/>
<rect x="102" y="39" width="7" height="1" fill="#000"/>
<rect x="693" y="39" width="7" height="1" fill="#000"/>
<rect x="102" y="41" width="7" height="1" fill="#000"/>
<rect x="693" y="41" width="7" height="1" fill="#000"/>
<rect x="102" y="43" width="7" height="1" fill="#000"/>
<rect x="693" y="43" width="7" height="1" fill="#000"/>
<rect x="102" y="47" width="7" height="1" fill="#000"/>
<rect x="693" y="47" width="7" height="1" fill="#000"/>
<rect x="102" y="51" width="7" height="1" fill="#000"/>
<rect x="693" y="51" width="7" height="1" fill="#000"/>
<rect x="102" y="56" width="7" height="1" fill="#000"/>
<rect x="693" y="56" width="7" height="1" fill="#000"/>
<rect x="102" y="66" width="13" height="1" fill="#000"/>
<rect x="687" y="66" width="13" height="1" fill="#000"/>
<rect x="102" y="67" width="7" height="1" fill="#000"/>
<rect x="693" y="67" width="7" height="1" fill="#000"/>
<rect x="102" y="69" width="7" height="1" fill="#000"/>
<rect x="693" y="69" width="7" height="1" fill="#000"/>
<rect x="102" y="71" width="7" height="1" fill="#000"/>
<rect x="693" y="71" width="7" height="1" fill="#000"/>
<rect x="102" y="73" width="7" height="1" fill="#000"/>
<rect x="693" y="73" width="7" height="1" fill="#000"/>
<rect x="102" y="76" width="7" height="1" fill="#000"/>
<rect x="693" y="76" width="7" height="1" fill="#000"/>
<rect x="102" y="79" width="7" height="1" fill="#000"/>
<rect x="693" y="79" width="7" height="1" fill="#000"/>
<rect x="102" y="83" width="598" height="1" fill="#000"/>
<rect x="102" y="148" width="598" height="1" fill="#000"/>
<rect x="102" y="83" width="1" height="66" fill="#000"/>
<rect x="699" y="83" width="1" height="66" fill="#000"/>
<rect x="152" y="83" width="1" height="1" fill="#000"/>
<rect x="202" y="83" width="1" height="1" fill="#000"/>
<rect x="252" y="83" width="1" height="2" fill="#000"/>
<rect x="301" y="83" width="1" height="1" fill="#000"/>
<rect x="351" y="83" width="1" height="1" fill="#000"/>
<rect x="401" y="83" width="1" height="2" fill="#000"/>
<rect x="451" y="83" width="1" height="1" fill="#000"/>
<rect x="500" y="83" width="1" height="1" fill="#000"/>
<rect x="550" y="83" width="1" height="2" fill="#000"/>
<rect x="600" y="83" width="1" height="1" fill="#000"/>
<rect x="650" y="83" width="1" height="1" fill="#000"/>
<rect x="152" y="147" width="1" height="2" fill="#000"/>
<rect x="202" y="147" width="1" height="2" fill="#000"/>
<rect x="252" y="146" width="1" height="3" fill="#000"/>
<rect x="301" y="147" width="1" height="2" fill="#000"/>
<rect x="351" y="147" width="1" height="2" fill="#000"/>
<rect x="401" y="146" width="1" height="3" fill="#000"/>
<rect x="451" y="147" width="1" height="2" fill="#000"/>
<rect x="500" y="147" width="1" height="2" fill="#000"/>
<rect x="550" y="146" width="1" height="3" fill="#000"/>
<rect x="600" y="147" width="1" height="2" fill="#000"/>
<rect x="650" y="147" width="1" height="2" fill="#000"/>
<rect x="102" y="89" width="7" height="1" fill="#000"/>
<rect x="693" y="89" width="7" height="1" fill="#000"/>
<rect x="102" y="99" width="13" height="1" fill="#000"/>
<rect x="687" y="99" width="13" height="1" fill="#000"/>
<rect x="102" y="100" width="7" height="1" fill="#000"/>
<rect x="693" y="100" width="7" height="1" fill="#000"/>
<rect x="102" y="102" width="7" height="1" fill="#000"/>
<rect x="693" y="102" width="7" height="1" fill="#000"/>
<rect x="102" y="104" width="7" height="1" fill="#000"/>
<rect x="693" y="104" width="7" height="1" fill="#000"/>
<rect x="102" y="106" width="7" height="1" fill="#000"/>
<rect x="693" y="106" width="7" height="1" fill="#000"/>
<rect x="102" y="108" width="7" height="1" fill="#000"/>
<rect x="693" y="108" width="7" height="1" fill="#000"/>
<rect x="102" y="112" width="7" height="1" fill="#000"/>
<rect x="693" y="112" width="7" height="1" fill="#000"/>
<rect x="102" y="116" width="7" height="1" fill="#000"/>
<rect x="693" y="116" width="7" height="1" fill="#000"/>
<rect x="102" y="121" width="7" height="1" fill="#000"/>
<rect x="693" y="121" width="7" height="1" fill="#000"/>
<rect x="102" y="131" width="13" height="1" fill="#000"/>
<rect x="687" y="131" width="13" height="1" fill="#000"/>
<rect x="102" y="132" width="7" height="1" fill="#000"/>
<rect x="693" y="132" width="7" height="1" fill="#000"/>
<rect x="102" y="134" width="7" height="1" fill="#000"/>
<rect x="693" y="134" width="7" height="1" fill="#000"/>
<rect x="102" y="136" width="7" height="1" fill="#000"/>
<rect x="693" y="136" width="7" height="1" fill="#000"/>
<rect x="102" y="138" width="7" height="1" fill="#000"/>
<rect x="693" y="138" width="7" height="1" fill="#000"/>
<rect x="102" y="141" width="7" height="1" fill="#000"/>
<rect x="693" y="141" width="7" height="1" fill="#000"/>
<rect x="102" y="144" width="7" height="1" fill="#000"/>
<rect x="693" y="144" width="7" height="1" fill="#000"/>
<rect x="102" y="148" width="598" height="1" fill="#000"/>
<rect x="102" y="213" width="598" height="1" fill="#000"/>
<rect x="102" y="148" width="1" height="66" fill="#000"/>
<rect x="699" y="148" width="1" height="66" fill="#000"/>
<rect x="152" y="148" width="1" height="1" fill="#000"/>
<rect x="202" y="148" width="1" height="1" fill="#000"/>
<rect x="252" y="148" width="1" height="2" fill="#000"/>
<rect x="301" y="148" width="1" height="1" fill="#000"/>
<rect x="351" y="148" width="1" height="1" fill="#000"/>
<rect x="401" y="148" width="1" height="2" fill="#000"/>
<rect x="451" y="148" width="1" height="1" fill="#000"/>
<rect x="500" y="148" width="1" height="1" fill="#000"/>
<rect x="550" y="148" width="1" height="2" fill="#000"/>
<rect x="600" y="148" width="1" height="1" fill="#000"/>
<rect x="650" y="148" width="1" height="1" fill="#000"/>
<rect x="152" y="212" width="1" height="2" fill="#000"/>
<rect x="202" y="212" width="1" height="2" fill="#000"/>
<rect x="252" y="211" width="1" height="3" fill="#000"/>
<rect x="301" y="212" width="1" height="2" fill="#000"/>
<rect x="351" y="212" width="1" height="2" fill="#000"/>
<rect x="401" y="211" width="1" height="3" fill="#000"/>
<rect x="451" y="212" width="1" height="2" fill="#000"/>
<rect x="500" y="212" width="1" height="2" fill="#000"/>
<rect x="550" y="211" width="1" height="3" fill="#000"/>
<rect x="600" y="212" width="1" height="2" fill="#000"/>
<rect x="650" y="212" width="1" height="2" fill="#000"/>
<rect x="102" y="154" width="7" height="1" fill="#000"/>
<rect x="693" y="154" width="7" height="1" fill="#000"/>
<rect x="102" y="163" width="13" height="1" fill="#000"/>
<rect x="687" y="163" width="13" height="1" fill="#000"/>
<rect x="102" y="165" width="7" height="1" fill="#000"/>
<rect x="693" y="165" width="7" height="1" fill="#000"/>
<rect x="102" y="167" width="7" height="1" fill="#000"/>
<rect x="693" y="167" width="7" height="1" fill="#000"/>
<rect x="102" y="168" width="7" height="1" fill="#000"/>
<rect x="693" y="168" width="7" height="1" fill="#000"/>
<rect x="102" y="171" width="7" height="1" fill="#000"/>
<rect x="693" y="171" width="7" height="1" fill="#000"/>
<rect x="102" y="173" width="7" height="1" fill="#000"/>
<rect x="693" y="173" width="7" height="1" fill="#000"/>
<rect x="102" y="176" width="7" height="1" fill="#000"/>
<rect x="693" y="176" width="7" height="1" fill="#000"/>
<rect x="102" y="180" width="7" height="1" fill="#000"/>
<rect x="693" y="180" width="7" height="1" fill="#000"/>
<rect x="102" y="186" width="7" height="1" fill="#000"/>
<rect x="693" y="186" width="7" height="1" fill="#000"/>
<rect x="102" y="196" width="13" height="1" fill="#000"/>
<rect x="687" y="196" width="13" height="1" fill="#000"/>
<rect x="102" y="198" width="7" height="1" fill="#000"/>
<rect x="693" y="198" width="7" height="1" fill="#000"/>
<rect x="102" y="199" width="7" height="1" fill="#000"/>
<rect x="693" y="199" width="7" height="1" fill="#000"/>
<rect x="102" y="201" width="7" height="1" fill="#000"/>
<rect x="693" y="201" width="7" height="1" fill="#000"/>
<rect x="102" y="203" width="7" height="1" fill="#000"/>
<rect x="693" y="203" width="7" height="1" fill="#000"/>
<rect x="102" y="206" width="7" height="1" fill="#000"/>
<rect x="693" y="206" width="7" height="1" fill="#000"/>
<rect x="102" y="209" width="7" height="1" fill="#000"/>
<rect x="693" y="209" width="7" height="1" fill="#000"/>
<rect x="102" y="213" width="598" height="1" fill="#000"/>
<rect x="102" y="278" width="598" height="1" fill="#000"/>
<rect x="102" y="213" width="1" height="66" fill="#000"/>
<rect x="699" y="213" width="1" height="66" fill="#000"/>
<rect x="152" y="213" width="1" height="1" fill="#000"/>
<rect x="202" y="213" width="1" height="1" fill="#000"/>
<rect x="252" y="213" width="1" height="2" fill="#000"/>
<rect x="301" y="213" width="1" height="1" fill="#000"/>
<rect x="351" y="213" width="1" height="1" fill="#000"/>
<rect x="401" y="213" width="1" height="2" fill="#000"/>
<rect x="451" y="213" width="1" height="1" fill="#000"/>
<rect x="500" y="213" width="1" height="1" fill="#000"/>
<rect x="550" y="213" width="1" height="2" fill="#000"/>
<rect x="600" y="213" width="1" height="1" fill="#000"/>
<rect x="650" y="213" width="1" height="1" fill="#000"/>
<rect x="152" y="277" width="1" height="2" fill="#000"/>
<rect x="202" y="277" width="1" height="2" fill="#000"/>
<rect x="252" y="276" width="1" height="3" fill="#000"/>
<rect x="301" y="277" width="1" height="2" fill="#000"/>
<rect x="351" y="277" width="1" height="2" fill="#000"/>
<rect x="401" y="276" width="1" height="3" fill="#000"/>
<rect x="451" y="277" width="1" height="2" fill="#000"/>
<rect x="500" y="277" width="1" height="2" fill="#000"/>
<rect x="550" y="276" width="1" height="3" fill="#000"/>
<rect x="600" y="277" width="1" height="2" fill="#000"/>
<rect x="650" y="277" width="1" height="2" fill="#000"/>
<rect x="102" y="219" width="7" height="1" fill="#000"/>
<rect x="693" y="219" width="7" height="1" fill="#000"/>
<rect x="102" y="228" width="13" height="1" fill="#000"/>
<rect x="687" y="228" width="13" height="1" fill="#000"/>
<rect x="102" y="230" width="7" height="1" fill="#000"/>
<rect x="693" y="230" width="7" height="1" fill="#000"/>
<rect x="102" y="232" width="7" height="1" fill="#000"/>
<rect x="693" y="232" width="7" height="1" fill="#000"/>
<rect x="102" y="233" width="7" height="1" fill="#000"/>
<rect x="693" y="233" width="7" height="1" fill="#000"/>
<rect x="102" y="236" width="7" height="1" fill="#000"/>
<rect x="693" y="236" width="7" height="1" fill="#000"/>
<rect x="102" y="238" width="7" height="1" fill="#000"/>
<rect x="693" y="238" width="7" height="1" fill="#000"/>
<rect x="102" y="241" width="7" height="1" fill="#000"/>
<rect x="693" y="241" width="7" height="1" fill="#000"/>
<rect x="102" y="245" width="7" height="1" fill="#000"/>
<rect x="693" y="245" width="7" height="1" fill="#000"/>
<rect x="102" y="251" width="7" height="1" fill="#000"/>
<rect x="693" y="251" width="7" height="1" fill="#000"/>
<rect x="102" y="261" width="13" height="1" fill="#000"/>
<rect x="687" y="261" width="13" height="1" fill="#000"/>
<rect x="102" y="263" width="7" height="1" fill="#000"/>
<rect x="693" y="263" width="7" height="1" fill="#000"/>
<rect x="102" y="264" width="7" height="1" fill="#000"/>
<rect x="693" y="264" width="7" height="1" fill="#000"/>
<rect x="102" y="266" width="7" height="1" fill="#000"/>
<rect x="693" y="266" width="7" height="1" fill="#000"/>
<rect x="102" y="268" width="7" height="1" fill="#000"/>
<rect x="693" y="268" width="7" height="1" fill="#000"/>
<rect x="102" y="271" width="7" height="1" fill="#000"/>
<rect x="693" y="271" width="7" height="1" fill="#000"/>
<rect x="102" y="274" width="7" height="1" fill="#000"/>
<rect x="693" y="274" width="7" height="1" fill="#000"/>
<rect x="102" y="278" width="598" height="1" fill="#000"/>
<rect x="102" y="343" width="598" height="1" fill="#000"/>
<rect x="102" y="278" width="1" height="66" fill="#000"/>
<rect x="699" y="278" width="1" height="66" fill="#000"/>
<rect x="152" y="278" width="1" height="1" fill="#000"/>
<rect x="202" y="278" width="1" height="1" fill="#000"/>
<rect x="252" y="278" width="1" height="2" fill="#000"/>
<rect x="301" y="278" width="1" height="1" fill="#000"/>
<rect x="351" y="278" width="1" height="1" fill="#000"/>
<rect x="401" y="278" width="1" height="2" fill="#000"/>
<rect x="451" y="278" width="1" height="1" fill="#000"/>
<rect x="500" y="278" width="1" height="1" fill="#000"/>
<rect x="550" y="278" width="1" height="2" fill="#000"/>
<rect x="600" y="278" width="1" height="1" fill="#000"/>
<rect x="650" y="278" width="1" height="1" fill="#000"/>
<rect x="152" y="342" width="1" height="2" fill="#000"/>
<rect x="202" y="342" width="1" height="2" fill="#000"/>
<rect x="252" y="341" width="1" height="3" fill="#000"/>
<rect x="301" y="342" width="1" height="2" fill="#000"/>
<rect x="351" y="342" width="1" height="2" fill="#000"/>
<rect x="401" y="341" width="1" height="3" fill="#000"/>
<rect x="451" y="342" width="1" height="2" fill="#000"/>
<rect x="500" y="342" width="1" height="2" fill="#000"/>
<rect x="550" y="341" width="1" height="3" fill="#000"/>
<rect x="600" y="342" width="1" height="2" fill="#000"/>
<rect x="650" y="342" width="1" height="2" fill="#000"/>
<rect x="102" y="284" width="7" height="1" fill="#000"/>
<rect x="693" y="284" width="7" height="1" fill="#000"/>
<rect x="102" y="293" width="13" height="1" fill="#000"/>
<rect x="687" y="293" width="13" height="1" fill="#000"/>
<rect x="102" y="295" width="7" height="1" fill="#000"/>
<rect x="693" y="295" width="7" height="1" fill="#000"/>
<rect x="102" y="297" width="7" height="1" fill="#000"/>
<rect x="693" y="297" width="7" height="1" fill="#000"/>
<rect x="102" y="298" width="7" height="1" fill="#000"/>
<rect x="693" y="298" width="7" height="1" fill="#000"/>
<rect x="102" y="301" width="7" height="1" fill="#000"/>
<rect x="693" y="301" width="7" height="1" fill="#000"/>
<rect x="102" y="303" width="7" height="1" fill="#000"/>
<rect x="693" y="303" width="7" height="1" fill="#000"/>
<rect x="102" y="306" width="7" height="1" fill="#000"/>
<rect x="693" y="306" width="7" height="1" fill="#000"/>
<rect x="102" y="310" width="7" height="1" fill="#000"/>
<rect x="693" y="310" width="7" height="1" fill="#000"/>
<rect x="102" y="316" width="7" height="1" fill="#000"/>
<rect x="693" y="316" width="7" height="1" fill="#000"/>
<rect x="102" y="326" width="13" height="1" fill="#000"/>
<rect x="687" y="326" width="13" height="1" fill="#000"/>
<rect x="102" y="328" width="7" height="1" fill="#000"/>
<rect x="693" y="328" width="7" height="1" fill="#000"/>
<rect x="102" y="329" width="7" height="1" fill="#000"/>
<rect x="693" y="329" width="7" height="1" fill="#000"/>
<rect x="102" y="331" width="7" height="1" fill="#000"/>
<rect x="693" y="331" width="7" height="1" fill="#000"/>
<rect x="102" y="333" width="7" height="1" fill="#000"/>
<rect x="693" y="333" width="7" height="1" fill="#000"/>
<rect x="102" y="336" width="7" height="1" fill="#000"/>
<rect x="693" y="336" width="7" height="1" fill="#000"/>
<rect x="102" y="339" width="7" height="1" fill="#000"/>
<rect x="693" y="339" width="7" height="1" fill="#000"/>
<rect x="102" y="356" width="598" height="1" fill="#000"/>
<rect x="102" y="420" width="598" height="1" fill="#000"/>
<rect x="102" y="356" width="1" height="65" fill="#000"/>
<rect x="699" y="356" width="1" height="65" fill="#000"/>
<rect x="152" y="356" width="1" height="1" fill="#000"/>
<rect x="202" y="356" width="1" height="1" fill="#000"/>
<rect x="252" y="356" width="1" height="2" fill="#000"/>
<rect x="301" y="356" width="1" height="1" fill="#000"/>
<rect x="351" y="356" width="1" height="1" fill="#000"/>
<rect x="401" y="356" width="1" height="2" fill="#000"/>
<rect x="451" y="356" width="1" height="1" fill="#000"/>
<rect x="500" y="356" width="1" height="1" fill="#000"/>
<rect x="550" y="356" width="1" height="2" fill="#000"/>
<rect x="600" y="356" width="1" height="1" fill="#000"/>
<rect x="650" y="356" width="1" height="1" fill="#000"/>
<rect x="152" y="419" width="1" height="2" fill="#000"/>
<rect x="202" y="419" width="1" height="2" fill="#000"/>
<rect x="252" y="418" width="1" height="3" fill="#000"/>
<rect x="301" y="419" width="1" height="2" fill="#000"/>
<rect x="351" y="419" width="1" height="2" fill="#000"/>
<rect x="401" y="418" width="1" height="3" fill="#000"/>
<rect x="451" y="419" width="1" height="2" fill="#000"/>
<rect x="500" y="419" width="1" height="2" fill="#000"/>
<rect x="550" y="418" width="1" height="3" fill="#000"/>
<rect x="600" y="419" width="1" height="2" fill="#000"/>
<rect x="650" y="419" width="1" height="2" fill="#000"/>
<rect x="102" y="361" width="7" height="1" fill="#000"/>
<rect x="693" y="361" width="7" height="1" fill="#000"/>
<rect x="102" y="371" width="13" height="1" fill="#000"/>
<rect x="687" y="371" width="13" height="1" fill="#000"/>
<rect x="102" y="372" width="7" height="1" fill="#000"/>
<rect x="693" y="372" width="7" height="1" fill="#000"/>
<rect x="102" y="374" width="7" height="1" fill="#000"/>
<rect x="693" y="374" width="7" height="1" fill="#000"/>
<rect x="102" y="376" width="7" height="1" fill="#000"/>
<rect x="693" y="376" width="7" height="1" fill="#000"/>
<rect x="102" y="378" width="7" height="1" fill="#000"/>
<rect x="693" y="378" width="7" height="1" fill="#000"/>
<rect x="102" y="381" width="7" height="1" fill="#000"/>
<rect x="693" y="381" width="7" height="1" fill="#000"/>
<rect x="102" y="384" width="7" height="1" fill="#000"/>
<rect x="693" y="384" width="7" height="1" fill="#000"/>
<rect x="102" y="388" width="7" height="1" fill="#000"/>
<rect x="693" y="388" width="7" height="1" fill="#000"/>
<rect x="102" y="394" width="7" height="1" fill="#000"/>
<rect x="693" y="394" width="7" height="1" fill="#000"/>
<rect x="102" y="403" width="13" height="1" fill="#000"/>
<rect x="687" y="403" width="13" height="1" fill="#000"/>
<rect x="102" y="405" width="7" height="1" fill="#000"/>
<rect x="693" y="405" width="7" height="1" fill="#000"/>
<rect x="102" y="406" width="7" height="1" fill="#000"/>
<rect x="693" y="406" width="7" height="1" fill="#000"/>
<rect x="102" y="408" width="7" height="1" fill="#000"/>
<rect x="693" y="408" width="7" height="1" fill="#000"/>
<rect x="102" y="410" width="7" height="1" fill="#000"/>
<rect x="693" y="410" width="7" height="1" fill="#000"/>
<rect x="102" y="413" width="7" height="1" fill="#000"/>
<rect x="693" y="413" width="7" height="1" fill="#000"/>
<rect x="102" y="416" width="7" height="1" fill="#000"/>
<rect x="693" y="416" width="7" height="1" fill="#000"/>
<rect x="102" y="433" width="598" height="1" fill="#000"/>
<rect x="102" y="498" width="598" height="1" fill="#000"/>
<rect x="102" y="433" width="1" height="66" fill="#000"/>
<rect x="699" y="433" width="1" height="66" fill="#000"/>
<rect x="152" y="433" width="1" height="1" fill="#000"/>
<rect x="202" y="433" width="1" height="1" fill="#000"/>
<rect x="252" y="433" width="1" height="2" fill="#000"/>
<rect x="301" y="433" width="1" height="1" fill="#000"/>
<rect x="351" y="433" width="1" height="1" fill="#000"/>
<rect x="401" y="433" width="1" height="2" fill="#000"/>
<rect x="451" y="433" width="1" height="1" fill="#000"/>
<rect x="500" y="433" width="1" height="1" fill="#000"/>
<rect x="550" y="433" width="1" height="2" fill="#000"/>
<rect x="600" y="433" width="1" height="1" fill="#000"/>
<rect x="650" y="433" width="1" height="1" fill="#000"/>
<rect x="152" y="497" width="1" height="2" fill="#000"/>
<rect x="202" y="497" width="1" height="2" fill="#000"/>
<rect x="252" y="496" width="1" height="3" fill="#000"/>
<rect x="301" y="497" width="1" height="2" fill="#000"/>
<rect x="351" y="497" width="1" height="2" fill="#000"/>
<rect x="401" y="496" width="1" height="3" fill="#000"/>
<rect x="451" y="497" width="1" height="2" fill="#000"/>
<rect x="500" y="497" width="1" height="2" fill="#000"/>
<rect x="550" y="496" width="1" height="3" fill="#000"/>
<rect x="600" y="497" width="1" height="2" fill="#000"/>
<rect x="650" y="497" width="1" height="2" fill="#000"/>
<rect x="102" y="439" width="7" height="1" fill="#000"/>
<rect x="693" y="439" width="7" height="1" fill="#000"/>
<rect x="102" y="449" width="13" height="1" fill="#000"/>
<rect x="687" y="449" width="13" height="1" fill="#000"/>
<rect x="102" y="450" width="7" height="1" fill="#000"/>
<rect x="693" y="450" width="7" height="1" fill="#000"/>
<rect x="102" y="452" width="7" height="1" fill="#000"/>
<rect x="693" y="452" width="7" height="1" fill="#000"/>
<rect x="102" y="454" width="7" height="1" fill="#000"/>
<rect x="693" y="454" width="7" height="1" fill="#000"/>
<rect x="102" y="456" width="7" height="1" fill="#000"/>
<rect x="693" y="456" width="7" height="1" fill="#000"/>
<rect x="102" y="458" width="7" height="1" fill="#000"/>
<rect x="693" y="458" width="7" height="1" fill="#000"/>
<rect x="102" y="462" width="7" height="1" fill="#000"/>
<rect x="693" y="462" width="7" height="1" fill="#000"/>
<rect x="102" y="466" width="7" height="1" fill="#000"/>
<rect x="693" y="466" width="7" height="1" fill="#000"/>
<rect x="102" y="471" width="7" height="1" fill="#000"/>
<rect x="693" y="471" width="7" height="1" fill="#000"/>
<rect x="102" y="481" width="13" height="1" fill="#000"/>
<rect x="687" y="481" width="13" height="1" fill="#000"/>
<rect x="102" y="482" width="7" height="1" fill="#000"/>
<rect x="693" y="482" width="7" height="1" fill="#000"/>
<rect x="102" y="484" width="7" height="1" fill="#000"/>
<rect x="693" y="484" width="7" height="1" fill="#000"/>
<rect x="102" y="486" width="7" height="1" fill="#000"/>
<rect x="693" y="486" width="7" height="1" fill="#000"/>
<rect x="102" y="488" width="7" height="1" fill="#000"/>
<rect x="693" y="488" width="7" height="1" fill="#000"/>
<rect x="102" y="491" width="7" height="1" fill="#000"/>
<rect x="693" y="491" width="7" height="1" fill="#000"/>
<rect x="102" y="494" width="7" height="1" fill="#000"/>
<rect x="693" y="494" width="7" height="1" fill="#000"/>
<rect x="102" y="511" width="598" height="1" fill="#000"/>
<rect x="102" y="576" width="598" height="1" fill="#000"/>
<rect x="102" y="511" width="1" height="66" fill="#000"/>
<rect x="699" y="511" width="1" height="66" fill="#000"/>
<rect x="152" y="511" width="1" height="1" fill="#000"/>
<rect x="202" y="511" width="1" height="1" fill="#000"/>
<rect x="252" y="511" width="1" height="2" fill="#000"/>
<rect x="301" y="511" width="1" height="1" fill="#000"/>
<rect x="351" y="511" width="1" height="1" fill="#000"/>
<rect x="401" y="511" width="1" height="2" fill="#000"/>
<rect x="451" y="511" width="1" height="1" fill="#000"/>
<rect x="500" y="511" width="1" height="1" fill="#000"/>
<rect x="550" y="511" width="1" height="2" fill="#000"/>
<rect x="600" y="511" width="1" height="1" fill="#000"/>
<rect x="650" y="511" width="1" height="1" fill="#000"/>
<rect x="152" y="575" width="1" height="2" fill="#000"/>
<rect x="202" y="575" width="1" height="2" fill="#000"/>
<rect x="252" y="574" width="1" height="3" fill="#000"/>
<rect x="301" y="575" width="1" height="2" fill="#000"/>
<rect x="351" y="575" width="1" height="2" fill="#000"/>
<rect x="401" y="574" width="1" height="3" fill="#000"/>
<rect x="451" y="575" width="1" height="2" fill="#000"/>
<rect x="500" y="575" width="1" height="2" fill="#000"/>
<rect x="550" y="574" width="1" height="3" fill="#000"/>
<rect x="600" y="575" width="1" height="2" fill="#000"/>
<rect x="650" y="575" width="1" height="2" fill="#000"/>
<rect x="102" y="517" width="7" height="1" fill="#000"/>
<rect x="693" y="517" width="7" height="1" fill="#000"/>
<rect x="102" y="527" width="13" height="1" fill="#000"/>
<rect x="687" y="527" width="13" height="1" fill="#000"/>
<rect x="102" y="528" width="7" height="1" fill="#000"/>
<rect x="693" y="528" width="7" height="1" fill="#000"/>
<rect x="102" y="530" width="7" height="1" fill="#000"/>
<rect x="693" y="530" width="7" height="1" fill="#000"/>
<rect x="102" y="532" width="7" height="1" fill="#000"/>
<rect x="693" y="532" width="7" height="1" fill="#000"/>
<rect x="102" y="534" width="7" height="1" fill="#000"/>
<rect x="693" y="534" width="7" height="1" fill="#000"/>
<rect x="102" y="536" width="7" height="1" fill="#000"/>
<rect x="693" y="536" width="7" height="1" fill="#000"/>
<rect x="102" y="540" width="7" height="1" fill="#000"/>
<rect x="693" y="540" width="7" height="1" fill="#000"/>
<rect x="102" y="544" width="7" height="1" fill="#000"/>
<rect x="693" y="544" width="7" height="1" fill="#000"/>
<rect x="102" y="549" width="7" height="1" fill="#000"/>
<rect x="693" y="549" width="7" height="1" fill="#000"/>
<rect x="102" y="559" width="13" height="1" fill="#000"/>
<rect x="687" y="559" width="13" height="1" fill="#000"/>
<rect x="102" y="560" width="7" height="1" fill="#000"/>
<rect x="693" y="560" width="7" height="1" fill="#000"/>
<rect x="102" y="562" width="7" height="1" fill="#000"/>
<rect x="693" y="562" width="7" height="1" fill="#000"/>
<rect x="102" y="564" width="7" height="1" fill="#000"/>
<rect x="693" y="564" width="7" height="1" fill="#000"/>
<rect x="102" y="566" width="7" height="1" fill="#000"/>
<rect x="693" y="566" width="7" height="1" fill="#000"/>
<rect x="102" y="569" width="7" height="1" fill="#000"/>
<rect x="693" y="569" width="7" height="1" fill="#000"/>
<rect x="102" y="572" width="7" height="1" fill="#000"/>
<rect x="693" y="572" width="7" height="1" fill="#000"/>
<rect x="102" y="589" width="598" height="1" fill="#000"/>
<rect x="102" y="654" width="598" height="1" fill="#000"/>
<rect x="102" y="589" width="1" height="66" fill="#000"/>
<rect x="699" y="589" width="1" height="66" fill="#000"/>
<rect x="152" y="589" width="1" height="1" fill="#000"/>
<rect x="202" y="589" width="1" height="1" fill="#000"/>
<rect x="252" y="589" width="1" height="2" fill="#000"/>
<rect x="301" y="589" width="1" height="1" fill="#000"/>
<rect x="351" y="589" width="1" height="1" fill="#000"/>
<rect x="401" y="589" width="1" height="2" fill="#000"/>
<rect x="451" y="589" width="1" height="1" fill="#000"/>
<rect x="500" y="589" width="1" height="1" fill="#000"/>
<rect x="550" y="589" width="1" height="2" fill="#000"/>
<rect x="600" y="589" width="1" height="1" fill="#000"/>
<rect x="650" y="589" width="1" height="1" fill="#000"/>
<rect x="152" y="653" width="1" height="2" fill="#000"/>
<rect x="202" y="653" width="1" height="2" fill="#000"/>
<rect x="252" y="652" width="1" height="3" fill="#000"/>
<rect x="301" y="653" width="1" height="2" fill="#000"/>
<rect x="351" y="653" width="1" height="2" fill="#000"/>
<rect x="401" y="652" width="1" height="3" fill="#000"/>
<rect x="451" y="653" width="1" height="2" fill="#000"/>
<rect x="500" y="653" width="1" height="2" fill="#000"/>
<rect x="550" y="652" width="1" height="3" fill="#000"/>
<rect x="600" y="653" width="1" height="2" fill="#000"/>
<rect x="650" y="653" width="1" height="2" fill="#000"/>
<rect x="102" y="595" width="7" height="1" fill="#000"/>
<rect x="693" y="595" width="7" height="1" fill="#000"/>
<rect x="102" y="605" width="13" height="1" fill="#000"/>
<rect x="687" y="605" width="13" height="1" fill="#000"/>
<rect x="102" y="606" width="7" height="1" fill="#000"/>
<rect x="693" y="606" width="7" height="1" fill="#000"/>
<rect x="102" y="608" width="7" height="1" fill="#000"/>
<rect x="693" y="608" width="7" height="1" fill="#000"/>
<rect x="102" y="610" width="7" height="1" fill="#000"/>
<rect x="693" y="610" width="7" height="1" fill="#000"/>
<rect x="102" y="612" width="7" height="1" fill="#000"/>
<rect x="693" y="612" width="7" height="1" fill="#000"/>
<rect x="102" y="614" width="7" height="1" fill="#000"/>
<rect x="693" y="614" width="7" height="1" fill="#000"/>
<rect x="102" y="618" width="7" height="1" fill="#000"/>
<rect x="693" y="618" width="7" height="1" fill="#000"/>
<rect x="102" y="622" width="7" height="1" fill="#000"/>
<rect x="693" y="622" width="7" height="1" fill="#000"/>
<rect x="102" y="627" width="7" height="1" fill="#000"/>
<rect x="693" y="627" width="7" height="1" fill="#000"/>
<rect x="102" y="637" width="13" height="1" fill="#000"/>
<rect x="687" y="637" width="13" height="1" fill="#000"/>
<rect x="102" y="638" width="7" height="1" fill="#000"/>
<rect x="693" y="638" width="7" height="1" fill="#000"/>
<rect x="102" y="640" width="7" height="1" fill="#000"/>
<rect x="693" y="640" width="7" height="1" fill="#000"/>
<rect x="102" y="642" width="7" height="1" fill="#000"/>
<rect x="693" y="642" width="7" height="1" fill="#000"/>
<rect x="102" y="644" width="7" height="1" fill="#000"/>
<rect x="693" y="644" width="7" height="1" fill="#000"/>
<rect x="102" y="647" width="7" height="1" fill="#000"/>
<rect x="693" y="647" width="7" height="1" fill="#000"/>
<rect x="102" y="650" width="7" height="1" fill="#000"/>
<rect x="693" y="650" width="7" height="1" fill="#000"/>
<rect x="102" y="667" width="598" height="1" fill="#000"/>
<rect x="102" y="732" width="598" height="1" fill="#000"/>
<rect x="102" y="667" width="1" height="66" fill="#000"/>
<rect x="699" y="667" width="1" height="66" fill="#000"/>
<rect x="152" y="667" width="1" height="1" fill="#000"/>
<rect x="202" y="667" width="1" height="1" fill="#000"/>
<rect x="252" y="667" width="1" height="2" fill="#000"/>
<rect x="301" y="667" width="1" height="1" fill="#000"/>
<rect x="351" y="667" width="1" height="1" fill="#000"/>
<rect x="401" y="667" width="1" height="2" fill="#000"/>
<rect x="451" y="667" width="1" height="1" fill="#000"/>
<rect x="500" y="667" width="1" height="1" fill="#000"/>
<rect x="550" y="667" width="1" height="2" fill="#000"/>
<rect x="600" y="667" width="1" height="1" fill="#000"/>
<rect x="650" y="667" width="1" height="1" fill="#000"/>
<rect x="152" y="731" width="1" height="2" fill="#000"/>
<rect x="202" y="731" width="1" height="2" fill="#000"/>
<rect x="252" y="730" width="1" height="3" fill="#000"/>
<rect x="301" y="731" width="1" height="2" fill="#000"/>
<rect x="351" y="731" width="1" height="2" fill="#000"/>
<rect x="401" y="730" width="1" height="3" fill="#000"/>
<rect x="451" y="731" width="1" height="2" fill="#000"/>
<rect x="500" y="731" width="1" height="2" fill="#000"/>
<rect x="550" y="730" width="1" height="3" fill="#000"/>
<rect x="600" y="731" width="1" height="2" fill="#000"/>
<rect x="650" y="731" width="1" height="2" fill="#000"/>
<rect x="102" y="673" width="7" height="1" fill="#000"/>
<rect x="693" y="673" width="7" height="1" fill="#000"/>
<rect x="102" y="682" width="13" height="1" fill="#000"/>
<rect x="687" y="682" width="13" height="1" fill="#000"/>
<rect x="102" y="684" width="7" height="1" fill="#000"/>
<rect x="693" y="684" width="7" height="1" fill="#000"/>
<rect x="102" y="686" width="7" height="1" fill="#000"/>
<rect x="693" y="686" width="7" height="1" fill="#000"/>
<rect x="102" y="687" width="7" height="1" fill="#000"/>
<rect x="693" y="687" width="7" height="1" fill="#000"/>
<rect x="102" y="690" width="7" height="1" fill="#000"/>
<rect x="693" y="690" width="7" height="1" fill="#000"/>
<rect x="102" y="692" width="7" height="1" fill="#000"/>
<rect x="693" y="692" width="7" height="1" fill="#000"/>
<rect x="102" y="695" width="7" height="1" fill="#000"/>
<rect x="693" y="695" width="7" height="1" fill="#000"/>
<rect x="102" y="699" width="7" height="1" fill="#000"/>
<rect x="693" y="699" width="7" height="1" fill="#000"/>
<rect x="102" y="705" width="7" height="1" fill="#000"/>
<rect x="693" y="705" width="7" height="1" fill="#000"/>
<rect x="102" y="715" width="13" height="1" fill="#000"/>
<rect x="687" y="715" width="13" height="1" fill="#000"/>
<rect x="102" y="717" width="7" height="1" fill="#000"/>
<rect x="693" y="717" width="7" height="1" fill="#000"/>
<rect x="102" y="718" width="7" height="1" fill="#000"/>
<rect x="693" y="718" width="7" height="1" fill="#000"/>
<rect x="102" y="720" width="7" height="1" fill="#000"/>
<rect x="693" y="720" width="7" height="1" fill="#000"/>
<rect x="102" y="722" width="7" height="1" fill="#000"/>
<rect x="693" y="722" width="7" height="1" fill="#000"/>
<rect x="102" y="725" width="7" height="1" fill="#000"/>
<rect x="693" y="725" width="7" height="1" fill="#000"/>
<rect x="102" y="728" width="7" height="1" fill="#000"/>
<rect x="693" y="728" width="7" height="1" fill="#000"/>
<rect x="102" y="343" width="1" height="14" fill="#000"/>
<rect x="699" y="343" width="1" height="14" fill="#000"/>
<rect x="102" y="348" width="1" height="4" fill="#ff0000"/>
<rect x="102" y="420" width="1" height="14" fill="#000"/>
<rect x="699" y="420" width="1" height="14" fill="#000"/>
<rect x="102" y="426" width="1" height="4" fill="#ff0000"/>
<rect x="102" y="498" width="1" height="14" fill="#000"/>
<rect x="699" y="498" width="1" height="14" fill="#000"/>
<rect x="102" y="504" width="1" height="4" fill="#ff0000"/>
<rect x="102" y="576" width="1" height="14" fill="#000"/>
<rect x="699" y="576" width="1" height="14" fill="#000"/>
<rect x="102" y="582" width="1" height="4" fill="#ff0000"/>
<rect x="102" y="654" width="1" height="14" fill="#000"/>
<rect x="699" y="654" width="1" height="14" fill="#000"/>
<rect x="102" y="659" width="1" height="4" fill="#ff0000"/>
<rect x="711" y="27" width="2" height="1" fill="#000"/>
<rect x="711" y="38" width="2" height="1" fill="#000"/>
<rect x="711" y="49" width="2" height="1" fill="#000"/>
<rect x="711" y="60" width="2" height="1" fill="#000"/>
<rect x="711" y="70" width="2" height="1" fill="#000"/>
<rect x="711" y="81" width="2" height="1" fill="#000"/>
<rect x="711" y="94" width="2" height="1" fill="#000"/>
<rect x="711" y="112" width="2" height="1" fill="#000"/>
<rect x="711" y="130" width="2" height="1" fill="#000"/>
<rect x="711" y="161" width="2" height="1" fill="#000"/>
<rect x="711" y="174" width="2" height="1" fill="#000"/>
<rect x="711" y="188" width="2" height="1" fill="#000"/>
<rect x="711" y="201" width="2" height="1" fill="#000"/>
<rect x="711" y="222" width="2" height="1" fill="#000"/>
<rect x="711" y="232" width="2" height="1" fill="#000"/>
<rect x="711" y="244" width="2" height="1" fill="#000"/>
<rect x="711" y="253" width="2" height="1" fill="#000"/>
<rect x="711" y="264" width="2" height="1" fill="#000"/>
<rect x="711" y="274" width="2" height="1" fill="#000"/>
<rect x="711" y="288" width="2" height="1" fill="#000"/>
<rect x="711" y="301" width="2" height="1" fill="#000"/>
<rect x="711" y="314" width="2" height="1" fill="#000"/>
<rect x="711" y="327" width="2" height="1" fill="#000"/>
<rect x="711" y="339" width="2" height="1" fill="#000"/>
<rect x="711" y="364" width="2" height="1" fill="#000"/>
<rect x="711" y="375" width="2" height="1" fill="#000"/>
<rect x="711" y="386" width="2" height="1" fill="#000"/>
<rect x="711" y="396" width="2" height="1" fill="#000"/>
<rect x="711" y="407" width="2" height="1" fill="#000"/>
<rect x="711" y="415" width="2" height="1" fill="#000"/>
<rect x="711" y="436" width="2" height="1" fill="#000"/>
<rect x="711" y="449" width="2" height="1" fill="#000"/>
<rect x="711" y="462" width="2" height="1" fill="#000"/>
<rect x="711" y="474" width="2" height="1" fill="#000"/>
<rect x="711" y="486" width="2" height="1" fill="#000"/>
<rect x="711" y="520" width="2" height="1" fill="#000"/>
<rect x="711" y="531" width="2" height="1" fill="#000"/>
<rect x="711" y="543" width="2" height="1" fill="#000"/>
<rect x="711" y="554" width="2" height="1" fill="#000"/>
<rect x="711" y="565" width="2" height="1" fill="#000"/>
<rect x="711" y="598" width="2" height="1" fill="#000"/>
<rect x="711" y="609" width="2" height="1" fill="#000"/>
<rect x="711" y="620" width="2" height="1" fill="#000"/>
<rect x="711" y="630" width="2" height="1" fill="#000"/>
<rect x="711" y="641" width="2" height="1" fill="#000"/>
<rect x="711" y="649" width="2" height="1" fill="#000"/>
<rect x="711" y="670" width="2" height="1" fill="#000"/>
<rect x="711" y="684" width="2" height="1" fill="#000"/>
<rect x="711" y="699" width="2" height="1" fill="#000"/>
<rect x="711" y="714" width="2" height="1" fill="#000"/>
<rect x="711" y="728" width="2" height="1" fill="#000"/>
</g>
<g font-size="10px">
<text y="13" font-size="12px"><tspan x="158" textLength="19" lengthAdjust="spacingAndGlyphs">P5,</tspan> <tspan x="186" textLength="19" lengthAdjust="spacingAndGlyphs">P1,</tspan> <tspan x="214" textLength="19" lengthAdjust="spacingAndGlyphs">P2,</tspan> <tspan x="242" textLength="19" lengthAdjust="spacingAndGlyphs">P3,</tspan> <tspan x="270" textLength="16" lengthAdjust="spacingAndGlyphs">P4</tspan> <tspan x="294.4" textLength="95" lengthAdjust="spacingAndGlyphs">(TH-A,B,C,D,E)</tspan> <tspan x="399" textLength="66" lengthAdjust="spacingAndGlyphs">PSIR,PSER</tspan> <tspan x="473" textLength="33" lengthAdjust="spacingAndGlyphs">EFlux</tspan> <tspan x="514" textLength="70" lengthAdjust="spacingAndGlyphs">eV/(eV*cm</tspan> <tspan x="586" y="6.6" font-size="7.5px" textLength="5" lengthAdjust="spacingAndGlyphs">2</tspan><tspan x="591" y="13" textLength="53" lengthAdjust="spacingAndGlyphs">*sec*sr)</tspan></text>
<text transform="translate(63.4,51) rotate(-90)" text-anchor="middle" font-size="10px">tha</text>
<text transform="translate(73,51) rotate(-90)" text-anchor="middle" font-size="10px">elec</text>
<text x="82.5" y="38.1" font-size="10px">10<tspan font-size="7px" dy="-4">6</tspan></text>
<text x="82.5" y="70.1" font-size="10px">10<tspan font-size="7px" dy="-4">5</tspan></text>
<text transform="translate(63.4,116) rotate(-90)" text-anchor="middle" font-size="10px">thb</text>
<text transform="translate(73,116) rotate(-90)" text-anchor="middle" font-size="10px">elec</text>
<text x="82.5" y="103.1" font-size="10px">10<tspan font-size="7px" dy="-4">6</tspan></text>
<text x="82.5" y="135.1" font-size="10px">10<tspan font-size="7px" dy="-4">5</tspan></text>
<text transform="translate(63.4,181) rotate(-90)" text-anchor="middle" font-size="10px">thc</text>
<text transform="translate(73,181) rotate(-90)" text-anchor="middle" font-size="10px">elec</text>
<text x="82.5" y="167.1" font-size="10px">10<tspan font-size="7px" dy="-4">6</tspan></text>
<text x="82.5" y="200.1" font-size="10px">10<tspan font-size="7px" dy="-4">5</tspan></text>
<text transform="translate(63.4,246) rotate(-90)" text-anchor="middle" font-size="10px">thd</text>
<text transform="translate(73,246) rotate(-90)" text-anchor="middle" font-size="10px">elec</text>
<text x="82.5" y="232.1" font-size="10px">10<tspan font-size="7px" dy="-4">6</tspan></text>
<text x="82.5" y="265.1" font-size="10px">10<tspan font-size="7px" dy="-4">5</tspan></text>
<text transform="translate(63.4,311) rotate(-90)" text-anchor="middle" font-size="10px">the</text>
<text transform="translate(73,311) rotate(-90)" text-anchor="middle" font-size="10px">elec</text>
<text x="82.5" y="297.1" font-size="10px">10<tspan font-size="7px" dy="-4">6</tspan></text>
<text x="82.5" y="330.1" font-size="10px">10<tspan font-size="7px" dy="-4">5</tspan></text>
<text transform="translate(63.4,388.5) rotate(-90)" text-anchor="middle" font-size="10px">tha</text>
<text transform="translate(73,388.5) rotate(-90)" text-anchor="middle" font-size="10px">ions</text>
<text x="82.5" y="375.1" font-size="10px">10<tspan font-size="7px" dy="-4">6</tspan></text>
<text x="82.5" y="407.1" font-size="10px">10<tspan font-size="7px" dy="-4">5</tspan></text>
<text transform="translate(63.4,466) rotate(-90)" text-anchor="middle" font-size="10px">thb</text>
<text transform="translate(73,466) rotate(-90)" text-anchor="middle" font-size="10px">ions</text>
<text x="82.5" y="453.1" font-size="10px">10<tspan font-size="7px" dy="-4">6</tspan></text>
<text x="82.5" y="485.1" font-size="10px">10<tspan font-size="7px" dy="-4">5</tspan></text>
<text transform="translate(63.4,544) rotate(-90)" text-anchor="middle" font-size="10px">thc</text>
<text transform="translate(73,544) rotate(-90)" text-anchor="middle" font-size="10px">ions</text>
<text x="82.5" y="531.1" font-size="10px">10<tspan font-size="7px" dy="-4">6</tspan></text>
<text x="82.5" y="563.1" font-size="10px">10<tspan font-size="7px" dy="-4">5</tspan></text>
<text transform="translate(63.4,622) rotate(-90)" text-anchor="middle" font-size="10px">thd</text>
<text transform="translate(73,622) rotate(-90)" text-anchor="middle" font-size="10px">ions</text>
<text x="82.5" y="609.1" font-size="10px">10<tspan font-size="7px" dy="-4">6</tspan></text>
<text x="82.5" y="641.1" font-size="10px">10<tspan font-size="7px" dy="-4">5</tspan></text>
<text transform="translate(63.4,700) rotate(-90)" text-anchor="middle" font-size="10px">the</text>
<text transform="translate(73,700) rotate(-90)" text-anchor="middle" font-size="10px">ions</text>
<text x="82.5" y="686.1" font-size="10px">10<tspan font-size="7px" dy="-4">6</tspan></text>
<text x="82.5" y="719.1" font-size="10px">10<tspan font-size="7px" dy="-4">5</tspan></text>
<text x="715.5" y="31.6" font-size="10.5px">10<tspan font-size="7px" dy="-4.5">7</tspan></text>
<text x="715.5" y="42.3" font-size="10.5px">10<tspan font-size="7px" dy="-4.5">6</tspan></text>
<text x="715.5" y="53.7" font-size="10.5px">10<tspan font-size="7px" dy="-4.5">5</tspan></text>
<text x="715.5" y="64.3" font-size="10.5px">10<tspan font-size="7px" dy="-4.5">4</tspan></text>
<text x="715.5" y="75.3" font-size="10.5px">10<tspan font-size="7px" dy="-4.5">3</tspan></text>
<text x="715.5" y="86" font-size="10.5px">10<tspan font-size="7px" dy="-4.5">2</tspan></text>
<text transform="translate(744,51) rotate(-90)" text-anchor="middle" font-size="10.5px">Eflux</text>
<text x="715.5" y="98.3" font-size="10.5px">1000</text>
<text x="715.5" y="116.5" font-size="10.5px">100</text>
<text x="715.5" y="135.3" font-size="10.5px">10</text>
<text transform="translate(754,116) rotate(-90)" text-anchor="middle" font-size="10.5px">Eflux</text>
<text x="715.5" y="166.05" font-size="10.5px">10000</text>
<text x="715.5" y="179.2" font-size="10.5px">1000</text>
<text x="715.5" y="192.3" font-size="10.5px">100</text>
<text x="715.5" y="205.4" font-size="10.5px">10</text>
<text x="715.5" y="227.3" font-size="10.5px">10<tspan font-size="7px" dy="-4.5">7</tspan></text>
<text x="715.5" y="237.1" font-size="10.5px">10<tspan font-size="7px" dy="-4.5">6</tspan></text>
<text x="715.5" y="248.4" font-size="10.5px">10<tspan font-size="7px" dy="-4.5">5</tspan></text>
<text x="715.5" y="258.2" font-size="10.5px">10<tspan font-size="7px" dy="-4.5">4</tspan></text>
<text x="715.5" y="268.5" font-size="10.5px">10<tspan font-size="7px" dy="-4.5">3</tspan></text>
<text x="715.5" y="278.4" font-size="10.5px">10<tspan font-size="7px" dy="-4.5">2</tspan></text>
<text transform="translate(744,246) rotate(-90)" text-anchor="middle" font-size="10.5px">Eflux</text>
<text x="715.5" y="292.8" font-size="10.5px">10<tspan font-size="7px" dy="-4.5">6</tspan></text>
<text x="715.5" y="305.9" font-size="10.5px">10<tspan font-size="7px" dy="-4.5">5</tspan></text>
<text x="715.5" y="319" font-size="10.5px">10<tspan font-size="7px" dy="-4.5">4</tspan></text>
<text x="715.5" y="332.1" font-size="10.5px">10<tspan font-size="7px" dy="-4.5">3</tspan></text>
<text x="715.5" y="343.9" font-size="10.5px">10<tspan font-size="7px" dy="-4.5">2</tspan></text>
<text transform="translate(744,311) rotate(-90)" text-anchor="middle" font-size="10.5px">Eflux</text>
<text x="715.5" y="369.3" font-size="10.5px">10<tspan font-size="7px" dy="-4.5">7</tspan></text>
<text x="715.5" y="379.6" font-size="10.5px">10<tspan font-size="7px" dy="-4.5">6</tspan></text>
<text x="715.5" y="390.3" font-size="10.5px">10<tspan font-size="7px" dy="-4.5">5</tspan></text>
<text x="715.5" y="401.2" font-size="10.5px">10<tspan font-size="7px" dy="-4.5">4</tspan></text>
<text x="715.5" y="411.9" font-size="10.5px">10<tspan font-size="7px" dy="-4.5">3</tspan></text>
<text x="715.5" y="419.9" font-size="10.5px">10<tspan font-size="7px" dy="-4.5">2</tspan></text>
<text transform="translate(744,388.5) rotate(-90)" text-anchor="middle" font-size="10.5px">Eflux</text>
<text x="715.5" y="441.2" font-size="10.5px">10<tspan font-size="7px" dy="-4.5">5</tspan></text>
<text x="715.5" y="453.9" font-size="10.5px">10<tspan font-size="7px" dy="-4.5">4</tspan></text>
<text x="715.5" y="466.5" font-size="10.5px">10<tspan font-size="7px" dy="-4.5">3</tspan></text>
<text x="715.5" y="478.7" font-size="10.5px">10<tspan font-size="7px" dy="-4.5">2</tspan></text>
<text x="715.5" y="490.9" font-size="10.5px">10<tspan font-size="7px" dy="-4.5">1</tspan></text>
<text transform="translate(744,466) rotate(-90)" text-anchor="middle" font-size="10.5px">Eflux</text>
<text x="715.5" y="524.8" font-size="10.5px">10<tspan font-size="7px" dy="-4.5">5</tspan></text>
<text x="715.5" y="535.6" font-size="10.5px">10<tspan font-size="7px" dy="-4.5">4</tspan></text>
<text x="715.5" y="547.8" font-size="10.5px">10<tspan font-size="7px" dy="-4.5">3</tspan></text>
<text x="715.5" y="558.6" font-size="10.5px">10<tspan font-size="7px" dy="-4.5">2</tspan></text>
<text x="715.5" y="569.8" font-size="10.5px">10<tspan font-size="7px" dy="-4.5">1</tspan></text>
<text transform="translate(744,544) rotate(-90)" text-anchor="middle" font-size="10.5px">Eflux</text>
<text x="715.5" y="603.3" font-size="10.5px">10<tspan font-size="7px" dy="-4.5">7</tspan></text>
<text x="715.5" y="613.6" font-size="10.5px">10<tspan font-size="7px" dy="-4.5">6</tspan></text>
<text x="715.5" y="624.4" font-size="10.5px">10<tspan font-size="7px" dy="-4.5">5</tspan></text>
<text x="715.5" y="635.2" font-size="10.5px">10<tspan font-size="7px" dy="-4.5">4</tspan></text>
<text x="715.5" y="645.5" font-size="10.5px">10<tspan font-size="7px" dy="-4.5">3</tspan></text>
<text x="715.5" y="653.9" font-size="10.5px">10<tspan font-size="7px" dy="-4.5">2</tspan></text>
<text transform="translate(744,622) rotate(-90)" text-anchor="middle" font-size="10.5px">Eflux</text>
<text x="715.5" y="675.2" font-size="10.5px">10<tspan font-size="7px" dy="-4.5">6</tspan></text>
<text x="715.5" y="689.3" font-size="10.5px">10<tspan font-size="7px" dy="-4.5">5</tspan></text>
<text x="715.5" y="703.8" font-size="10.5px">10<tspan font-size="7px" dy="-4.5">4</tspan></text>
<text x="715.5" y="718.8" font-size="10.5px">10<tspan font-size="7px" dy="-4.5">3</tspan></text>
<text x="715.5" y="732.8" font-size="10.5px">10<tspan font-size="7px" dy="-4.5">2</tspan></text>
<text transform="translate(744,700) rotate(-90)" text-anchor="middle" font-size="10.5px">Eflux</text>
<text x="89.5" y="747" textLength="26" lengthAdjust="spacingAndGlyphs">2200</text>
<text x="239.5" y="747" textLength="26" lengthAdjust="spacingAndGlyphs">2230</text>
<text x="388.5" y="747" textLength="26" lengthAdjust="spacingAndGlyphs">2300</text>
<text x="537.5" y="747" textLength="26" lengthAdjust="spacingAndGlyphs">2330</text>
<text x="686.5" y="747" textLength="26" lengthAdjust="spacingAndGlyphs">0000</text>
<text x="84" y="757" textLength="37" lengthAdjust="spacingAndGlyphs">Aug 20</text>
<text x="680.3" y="757" textLength="36" lengthAdjust="spacingAndGlyphs">Aug 21</text>
<text x="7" y="747" textLength="32" lengthAdjust="spacingAndGlyphs">hhmm</text>
<text x="7" y="757" textLength="26" lengthAdjust="spacingAndGlyphs">2020</text>
</g>
</svg></body></html>
